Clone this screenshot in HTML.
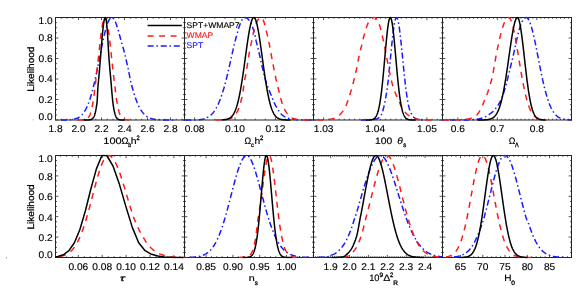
<!DOCTYPE html>
<html><head><meta charset="utf-8"><title>Likelihood</title>
<style>
html,body{margin:0;padding:0;background:#fff;}
body{width:586px;height:293px;overflow:hidden;position:relative;font-family:"Liberation Sans",sans-serif;}
</style></head><body>
<svg xmlns="http://www.w3.org/2000/svg" width="586" height="293" viewBox="0 0 586 293" style="position:absolute;left:0;top:0;will-change:transform">
<rect x="0" y="0" width="586" height="293" fill="#fff"/>
<clipPath id="clip00"><rect x="55.50" y="16.50" width="129.00" height="104.50"/></clipPath>
<rect x="55.50" y="17.50" width="129.00" height="102.50" fill="none" stroke="#242424" stroke-width="1"/>
<text transform="translate(55.50 132.00) scale(1.040 1)" font-size="9.80" text-anchor="middle" font-family="Liberation Sans, sans-serif" text-rendering="geometricPrecision" fill="#000" stroke="#000" stroke-width="0.14">1.8</text>
<text transform="translate(78.50 132.00) scale(1.040 1)" font-size="9.80" text-anchor="middle" font-family="Liberation Sans, sans-serif" text-rendering="geometricPrecision" fill="#000" stroke="#000" stroke-width="0.14">2.0</text>
<text transform="translate(101.50 132.00) scale(1.040 1)" font-size="9.80" text-anchor="middle" font-family="Liberation Sans, sans-serif" text-rendering="geometricPrecision" fill="#000" stroke="#000" stroke-width="0.14">2.2</text>
<text transform="translate(124.50 132.00) scale(1.040 1)" font-size="9.80" text-anchor="middle" font-family="Liberation Sans, sans-serif" text-rendering="geometricPrecision" fill="#000" stroke="#000" stroke-width="0.14">2.4</text>
<text transform="translate(147.50 132.00) scale(1.040 1)" font-size="9.80" text-anchor="middle" font-family="Liberation Sans, sans-serif" text-rendering="geometricPrecision" fill="#000" stroke="#000" stroke-width="0.14">2.6</text>
<text transform="translate(170.50 132.00) scale(1.040 1)" font-size="9.80" text-anchor="middle" font-family="Liberation Sans, sans-serif" text-rendering="geometricPrecision" fill="#000" stroke="#000" stroke-width="0.14">2.8</text>
<path d="M55.50 120.00 h2.90 M184.50 120.00 h-2.90 M55.50 114.88 h1.50 M184.50 114.88 h-1.50 M55.50 109.75 h1.50 M184.50 109.75 h-1.50 M55.50 104.62 h1.50 M184.50 104.62 h-1.50 M55.50 99.50 h2.90 M184.50 99.50 h-2.90 M55.50 94.38 h1.50 M184.50 94.38 h-1.50 M55.50 89.25 h1.50 M184.50 89.25 h-1.50 M55.50 84.12 h1.50 M184.50 84.12 h-1.50 M55.50 79.00 h2.90 M184.50 79.00 h-2.90 M55.50 73.88 h1.50 M184.50 73.88 h-1.50 M55.50 68.75 h1.50 M184.50 68.75 h-1.50 M55.50 63.62 h1.50 M184.50 63.62 h-1.50 M55.50 58.50 h2.90 M184.50 58.50 h-2.90 M55.50 53.38 h1.50 M184.50 53.38 h-1.50 M55.50 48.25 h1.50 M184.50 48.25 h-1.50 M55.50 43.12 h1.50 M184.50 43.12 h-1.50 M55.50 38.00 h2.90 M184.50 38.00 h-2.90 M55.50 32.87 h1.50 M184.50 32.87 h-1.50 M55.50 27.75 h1.50 M184.50 27.75 h-1.50 M55.50 22.62 h1.50 M184.50 22.62 h-1.50 M55.50 17.50 h2.90 M184.50 17.50 h-2.90 M55.50 120.00 v-2.60 M55.50 17.50 v2.60 M61.25 120.00 v-1.30 M61.25 17.50 v1.30 M67.00 120.00 v-1.30 M67.00 17.50 v1.30 M72.75 120.00 v-1.30 M72.75 17.50 v1.30 M78.50 120.00 v-2.60 M78.50 17.50 v2.60 M84.25 120.00 v-1.30 M84.25 17.50 v1.30 M90.00 120.00 v-1.30 M90.00 17.50 v1.30 M95.75 120.00 v-1.30 M95.75 17.50 v1.30 M101.50 120.00 v-2.60 M101.50 17.50 v2.60 M107.25 120.00 v-1.30 M107.25 17.50 v1.30 M113.00 120.00 v-1.30 M113.00 17.50 v1.30 M118.75 120.00 v-1.30 M118.75 17.50 v1.30 M124.50 120.00 v-2.60 M124.50 17.50 v2.60 M130.25 120.00 v-1.30 M130.25 17.50 v1.30 M136.00 120.00 v-1.30 M136.00 17.50 v1.30 M141.75 120.00 v-1.30 M141.75 17.50 v1.30 M147.50 120.00 v-2.60 M147.50 17.50 v2.60 M153.25 120.00 v-1.30 M153.25 17.50 v1.30 M159.00 120.00 v-1.30 M159.00 17.50 v1.30 M164.75 120.00 v-1.30 M164.75 17.50 v1.30 M170.50 120.00 v-2.60 M170.50 17.50 v2.60 M176.25 120.00 v-1.30 M176.25 17.50 v1.30 M182.00 120.00 v-1.30 M182.00 17.50 v1.30" stroke="#2a2a2a" stroke-width="0.8" fill="none"/>
<text transform="translate(52.70 119.90) scale(1.040 1)" font-size="9.80" text-anchor="end" font-family="Liberation Sans, sans-serif" text-rendering="geometricPrecision" fill="#000" stroke="#000" stroke-width="0.14">0.0</text>
<text transform="translate(52.70 102.80) scale(1.040 1)" font-size="9.80" text-anchor="end" font-family="Liberation Sans, sans-serif" text-rendering="geometricPrecision" fill="#000" stroke="#000" stroke-width="0.14">0.2</text>
<text transform="translate(52.70 82.30) scale(1.040 1)" font-size="9.80" text-anchor="end" font-family="Liberation Sans, sans-serif" text-rendering="geometricPrecision" fill="#000" stroke="#000" stroke-width="0.14">0.4</text>
<text transform="translate(52.70 61.80) scale(1.040 1)" font-size="9.80" text-anchor="end" font-family="Liberation Sans, sans-serif" text-rendering="geometricPrecision" fill="#000" stroke="#000" stroke-width="0.14">0.6</text>
<text transform="translate(52.70 41.30) scale(1.040 1)" font-size="9.80" text-anchor="end" font-family="Liberation Sans, sans-serif" text-rendering="geometricPrecision" fill="#000" stroke="#000" stroke-width="0.14">0.8</text>
<text transform="translate(52.70 23.80) scale(1.040 1)" font-size="9.80" text-anchor="end" font-family="Liberation Sans, sans-serif" text-rendering="geometricPrecision" fill="#000" stroke="#000" stroke-width="0.14">1.0</text>
<text transform="translate(34.30 69.15) rotate(-90) scale(1.070 1)" font-size="9.40" text-anchor="middle" font-family="Liberation Sans, sans-serif" text-rendering="geometricPrecision" fill="#000" stroke="#000" stroke-width="0.28">Likelihood</text>
<clipPath id="clip01"><rect x="184.50" y="16.50" width="129.00" height="104.50"/></clipPath>
<rect x="184.50" y="17.50" width="129.00" height="102.50" fill="none" stroke="#242424" stroke-width="1"/>
<text transform="translate(194.60 132.00) scale(1.040 1)" font-size="9.80" text-anchor="middle" font-family="Liberation Sans, sans-serif" text-rendering="geometricPrecision" fill="#000" stroke="#000" stroke-width="0.14">0.08</text>
<text transform="translate(235.00 132.00) scale(1.040 1)" font-size="9.80" text-anchor="middle" font-family="Liberation Sans, sans-serif" text-rendering="geometricPrecision" fill="#000" stroke="#000" stroke-width="0.14">0.10</text>
<text transform="translate(275.40 132.00) scale(1.040 1)" font-size="9.80" text-anchor="middle" font-family="Liberation Sans, sans-serif" text-rendering="geometricPrecision" fill="#000" stroke="#000" stroke-width="0.14">0.12</text>
<path d="M184.50 120.00 h2.90 M313.50 120.00 h-2.90 M184.50 114.88 h1.50 M313.50 114.88 h-1.50 M184.50 109.75 h1.50 M313.50 109.75 h-1.50 M184.50 104.62 h1.50 M313.50 104.62 h-1.50 M184.50 99.50 h2.90 M313.50 99.50 h-2.90 M184.50 94.38 h1.50 M313.50 94.38 h-1.50 M184.50 89.25 h1.50 M313.50 89.25 h-1.50 M184.50 84.12 h1.50 M313.50 84.12 h-1.50 M184.50 79.00 h2.90 M313.50 79.00 h-2.90 M184.50 73.88 h1.50 M313.50 73.88 h-1.50 M184.50 68.75 h1.50 M313.50 68.75 h-1.50 M184.50 63.62 h1.50 M313.50 63.62 h-1.50 M184.50 58.50 h2.90 M313.50 58.50 h-2.90 M184.50 53.38 h1.50 M313.50 53.38 h-1.50 M184.50 48.25 h1.50 M313.50 48.25 h-1.50 M184.50 43.12 h1.50 M313.50 43.12 h-1.50 M184.50 38.00 h2.90 M313.50 38.00 h-2.90 M184.50 32.87 h1.50 M313.50 32.87 h-1.50 M184.50 27.75 h1.50 M313.50 27.75 h-1.50 M184.50 22.62 h1.50 M313.50 22.62 h-1.50 M184.50 17.50 h2.90 M313.50 17.50 h-2.90 M184.50 120.00 v-1.30 M184.50 17.50 v1.30 M194.60 120.00 v-2.60 M194.60 17.50 v2.60 M204.70 120.00 v-1.30 M204.70 17.50 v1.30 M214.80 120.00 v-1.30 M214.80 17.50 v1.30 M224.90 120.00 v-1.30 M224.90 17.50 v1.30 M235.00 120.00 v-2.60 M235.00 17.50 v2.60 M245.10 120.00 v-1.30 M245.10 17.50 v1.30 M255.20 120.00 v-1.30 M255.20 17.50 v1.30 M265.30 120.00 v-1.30 M265.30 17.50 v1.30 M275.40 120.00 v-2.60 M275.40 17.50 v2.60 M285.50 120.00 v-1.30 M285.50 17.50 v1.30 M295.60 120.00 v-1.30 M295.60 17.50 v1.30 M305.70 120.00 v-1.30 M305.70 17.50 v1.30" stroke="#2a2a2a" stroke-width="0.8" fill="none"/>
<clipPath id="clip02"><rect x="313.50" y="16.50" width="129.00" height="104.50"/></clipPath>
<rect x="313.50" y="17.50" width="129.00" height="102.50" fill="none" stroke="#242424" stroke-width="1"/>
<text transform="translate(323.60 132.00) scale(1.040 1)" font-size="9.80" text-anchor="middle" font-family="Liberation Sans, sans-serif" text-rendering="geometricPrecision" fill="#000" stroke="#000" stroke-width="0.14">1.03</text>
<text transform="translate(375.25 132.00) scale(1.040 1)" font-size="9.80" text-anchor="middle" font-family="Liberation Sans, sans-serif" text-rendering="geometricPrecision" fill="#000" stroke="#000" stroke-width="0.14">1.04</text>
<text transform="translate(426.90 132.00) scale(1.040 1)" font-size="9.80" text-anchor="middle" font-family="Liberation Sans, sans-serif" text-rendering="geometricPrecision" fill="#000" stroke="#000" stroke-width="0.14">1.05</text>
<path d="M313.50 120.00 h2.90 M442.50 120.00 h-2.90 M313.50 114.88 h1.50 M442.50 114.88 h-1.50 M313.50 109.75 h1.50 M442.50 109.75 h-1.50 M313.50 104.62 h1.50 M442.50 104.62 h-1.50 M313.50 99.50 h2.90 M442.50 99.50 h-2.90 M313.50 94.38 h1.50 M442.50 94.38 h-1.50 M313.50 89.25 h1.50 M442.50 89.25 h-1.50 M313.50 84.12 h1.50 M442.50 84.12 h-1.50 M313.50 79.00 h2.90 M442.50 79.00 h-2.90 M313.50 73.88 h1.50 M442.50 73.88 h-1.50 M313.50 68.75 h1.50 M442.50 68.75 h-1.50 M313.50 63.62 h1.50 M442.50 63.62 h-1.50 M313.50 58.50 h2.90 M442.50 58.50 h-2.90 M313.50 53.38 h1.50 M442.50 53.38 h-1.50 M313.50 48.25 h1.50 M442.50 48.25 h-1.50 M313.50 43.12 h1.50 M442.50 43.12 h-1.50 M313.50 38.00 h2.90 M442.50 38.00 h-2.90 M313.50 32.87 h1.50 M442.50 32.87 h-1.50 M313.50 27.75 h1.50 M442.50 27.75 h-1.50 M313.50 22.62 h1.50 M442.50 22.62 h-1.50 M313.50 17.50 h2.90 M442.50 17.50 h-2.90 M318.43 120.00 v-1.30 M318.43 17.50 v1.30 M323.60 120.00 v-2.60 M323.60 17.50 v2.60 M328.76 120.00 v-1.30 M328.76 17.50 v1.30 M333.93 120.00 v-1.30 M333.93 17.50 v1.30 M339.09 120.00 v-1.30 M339.09 17.50 v1.30 M344.26 120.00 v-1.30 M344.26 17.50 v1.30 M349.42 120.00 v-1.30 M349.42 17.50 v1.30 M354.59 120.00 v-1.30 M354.59 17.50 v1.30 M359.75 120.00 v-1.30 M359.75 17.50 v1.30 M364.92 120.00 v-1.30 M364.92 17.50 v1.30 M370.08 120.00 v-1.30 M370.08 17.50 v1.30 M375.25 120.00 v-2.60 M375.25 17.50 v2.60 M380.41 120.00 v-1.30 M380.41 17.50 v1.30 M385.58 120.00 v-1.30 M385.58 17.50 v1.30 M390.75 120.00 v-1.30 M390.75 17.50 v1.30 M395.91 120.00 v-1.30 M395.91 17.50 v1.30 M401.08 120.00 v-1.30 M401.08 17.50 v1.30 M406.24 120.00 v-1.30 M406.24 17.50 v1.30 M411.41 120.00 v-1.30 M411.41 17.50 v1.30 M416.57 120.00 v-1.30 M416.57 17.50 v1.30 M421.74 120.00 v-1.30 M421.74 17.50 v1.30 M426.90 120.00 v-2.60 M426.90 17.50 v2.60 M432.07 120.00 v-1.30 M432.07 17.50 v1.30 M437.23 120.00 v-1.30 M437.23 17.50 v1.30 M442.40 120.00 v-1.30 M442.40 17.50 v1.30" stroke="#2a2a2a" stroke-width="0.8" fill="none"/>
<clipPath id="clip03"><rect x="442.50" y="16.50" width="129.00" height="104.50"/></clipPath>
<rect x="442.50" y="17.50" width="129.00" height="102.50" fill="none" stroke="#242424" stroke-width="1"/>
<text transform="translate(457.80 132.00) scale(1.040 1)" font-size="9.80" text-anchor="middle" font-family="Liberation Sans, sans-serif" text-rendering="geometricPrecision" fill="#000" stroke="#000" stroke-width="0.14">0.6</text>
<text transform="translate(497.30 132.00) scale(1.040 1)" font-size="9.80" text-anchor="middle" font-family="Liberation Sans, sans-serif" text-rendering="geometricPrecision" fill="#000" stroke="#000" stroke-width="0.14">0.7</text>
<text transform="translate(536.80 132.00) scale(1.040 1)" font-size="9.80" text-anchor="middle" font-family="Liberation Sans, sans-serif" text-rendering="geometricPrecision" fill="#000" stroke="#000" stroke-width="0.14">0.8</text>
<path d="M442.50 120.00 h2.90 M571.50 120.00 h-2.90 M442.50 114.88 h1.50 M571.50 114.88 h-1.50 M442.50 109.75 h1.50 M571.50 109.75 h-1.50 M442.50 104.62 h1.50 M571.50 104.62 h-1.50 M442.50 99.50 h2.90 M571.50 99.50 h-2.90 M442.50 94.38 h1.50 M571.50 94.38 h-1.50 M442.50 89.25 h1.50 M571.50 89.25 h-1.50 M442.50 84.12 h1.50 M571.50 84.12 h-1.50 M442.50 79.00 h2.90 M571.50 79.00 h-2.90 M442.50 73.88 h1.50 M571.50 73.88 h-1.50 M442.50 68.75 h1.50 M571.50 68.75 h-1.50 M442.50 63.62 h1.50 M571.50 63.62 h-1.50 M442.50 58.50 h2.90 M571.50 58.50 h-2.90 M442.50 53.38 h1.50 M571.50 53.38 h-1.50 M442.50 48.25 h1.50 M571.50 48.25 h-1.50 M442.50 43.12 h1.50 M571.50 43.12 h-1.50 M442.50 38.00 h2.90 M571.50 38.00 h-2.90 M442.50 32.87 h1.50 M571.50 32.87 h-1.50 M442.50 27.75 h1.50 M571.50 27.75 h-1.50 M442.50 22.62 h1.50 M571.50 22.62 h-1.50 M442.50 17.50 h2.90 M571.50 17.50 h-2.90 M445.95 120.00 v-1.30 M445.95 17.50 v1.30 M449.90 120.00 v-1.30 M449.90 17.50 v1.30 M453.85 120.00 v-1.30 M453.85 17.50 v1.30 M457.80 120.00 v-2.60 M457.80 17.50 v2.60 M461.75 120.00 v-1.30 M461.75 17.50 v1.30 M465.70 120.00 v-1.30 M465.70 17.50 v1.30 M469.65 120.00 v-1.30 M469.65 17.50 v1.30 M473.60 120.00 v-1.30 M473.60 17.50 v1.30 M477.55 120.00 v-1.30 M477.55 17.50 v1.30 M481.50 120.00 v-1.30 M481.50 17.50 v1.30 M485.45 120.00 v-1.30 M485.45 17.50 v1.30 M489.40 120.00 v-1.30 M489.40 17.50 v1.30 M493.35 120.00 v-1.30 M493.35 17.50 v1.30 M497.30 120.00 v-2.60 M497.30 17.50 v2.60 M501.25 120.00 v-1.30 M501.25 17.50 v1.30 M505.20 120.00 v-1.30 M505.20 17.50 v1.30 M509.15 120.00 v-1.30 M509.15 17.50 v1.30 M513.10 120.00 v-1.30 M513.10 17.50 v1.30 M517.05 120.00 v-1.30 M517.05 17.50 v1.30 M521.00 120.00 v-1.30 M521.00 17.50 v1.30 M524.95 120.00 v-1.30 M524.95 17.50 v1.30 M528.90 120.00 v-1.30 M528.90 17.50 v1.30 M532.85 120.00 v-1.30 M532.85 17.50 v1.30 M536.80 120.00 v-2.60 M536.80 17.50 v2.60 M540.75 120.00 v-1.30 M540.75 17.50 v1.30 M544.70 120.00 v-1.30 M544.70 17.50 v1.30 M548.65 120.00 v-1.30 M548.65 17.50 v1.30 M552.60 120.00 v-1.30 M552.60 17.50 v1.30 M556.55 120.00 v-1.30 M556.55 17.50 v1.30 M560.50 120.00 v-1.30 M560.50 17.50 v1.30 M564.45 120.00 v-1.30 M564.45 17.50 v1.30 M568.40 120.00 v-1.30 M568.40 17.50 v1.30" stroke="#2a2a2a" stroke-width="0.8" fill="none"/>
<clipPath id="clip10"><rect x="55.50" y="154.50" width="129.00" height="104.00"/></clipPath>
<rect x="55.50" y="155.50" width="129.00" height="102.00" fill="none" stroke="#242424" stroke-width="1"/>
<text transform="translate(78.30 269.50) scale(1.040 1)" font-size="9.80" text-anchor="middle" font-family="Liberation Sans, sans-serif" text-rendering="geometricPrecision" fill="#000" stroke="#000" stroke-width="0.14">0.06</text>
<text transform="translate(102.20 269.50) scale(1.040 1)" font-size="9.80" text-anchor="middle" font-family="Liberation Sans, sans-serif" text-rendering="geometricPrecision" fill="#000" stroke="#000" stroke-width="0.14">0.08</text>
<text transform="translate(126.10 269.50) scale(1.040 1)" font-size="9.80" text-anchor="middle" font-family="Liberation Sans, sans-serif" text-rendering="geometricPrecision" fill="#000" stroke="#000" stroke-width="0.14">0.10</text>
<text transform="translate(150.00 269.50) scale(1.040 1)" font-size="9.80" text-anchor="middle" font-family="Liberation Sans, sans-serif" text-rendering="geometricPrecision" fill="#000" stroke="#000" stroke-width="0.14">0.12</text>
<text transform="translate(173.90 269.50) scale(1.040 1)" font-size="9.80" text-anchor="middle" font-family="Liberation Sans, sans-serif" text-rendering="geometricPrecision" fill="#000" stroke="#000" stroke-width="0.14">0.14</text>
<path d="M55.50 257.50 h2.90 M184.50 257.50 h-2.90 M55.50 252.40 h1.50 M184.50 252.40 h-1.50 M55.50 247.30 h1.50 M184.50 247.30 h-1.50 M55.50 242.20 h1.50 M184.50 242.20 h-1.50 M55.50 237.10 h2.90 M184.50 237.10 h-2.90 M55.50 232.00 h1.50 M184.50 232.00 h-1.50 M55.50 226.90 h1.50 M184.50 226.90 h-1.50 M55.50 221.80 h1.50 M184.50 221.80 h-1.50 M55.50 216.70 h2.90 M184.50 216.70 h-2.90 M55.50 211.60 h1.50 M184.50 211.60 h-1.50 M55.50 206.50 h1.50 M184.50 206.50 h-1.50 M55.50 201.40 h1.50 M184.50 201.40 h-1.50 M55.50 196.30 h2.90 M184.50 196.30 h-2.90 M55.50 191.20 h1.50 M184.50 191.20 h-1.50 M55.50 186.10 h1.50 M184.50 186.10 h-1.50 M55.50 181.00 h1.50 M184.50 181.00 h-1.50 M55.50 175.90 h2.90 M184.50 175.90 h-2.90 M55.50 170.80 h1.50 M184.50 170.80 h-1.50 M55.50 165.70 h1.50 M184.50 165.70 h-1.50 M55.50 160.60 h1.50 M184.50 160.60 h-1.50 M55.50 155.50 h2.90 M184.50 155.50 h-2.90 M60.38 257.50 v-1.30 M60.38 155.50 v1.30 M66.35 257.50 v-1.30 M66.35 155.50 v1.30 M72.33 257.50 v-1.30 M72.33 155.50 v1.30 M78.30 257.50 v-2.60 M78.30 155.50 v2.60 M84.28 257.50 v-1.30 M84.28 155.50 v1.30 M90.25 257.50 v-1.30 M90.25 155.50 v1.30 M96.23 257.50 v-1.30 M96.23 155.50 v1.30 M102.20 257.50 v-2.60 M102.20 155.50 v2.60 M108.18 257.50 v-1.30 M108.18 155.50 v1.30 M114.15 257.50 v-1.30 M114.15 155.50 v1.30 M120.13 257.50 v-1.30 M120.13 155.50 v1.30 M126.10 257.50 v-2.60 M126.10 155.50 v2.60 M132.08 257.50 v-1.30 M132.08 155.50 v1.30 M138.05 257.50 v-1.30 M138.05 155.50 v1.30 M144.03 257.50 v-1.30 M144.03 155.50 v1.30 M150.00 257.50 v-2.60 M150.00 155.50 v2.60 M155.98 257.50 v-1.30 M155.98 155.50 v1.30 M161.95 257.50 v-1.30 M161.95 155.50 v1.30 M167.93 257.50 v-1.30 M167.93 155.50 v1.30 M173.90 257.50 v-2.60 M173.90 155.50 v2.60 M179.88 257.50 v-1.30 M179.88 155.50 v1.30" stroke="#2a2a2a" stroke-width="0.8" fill="none"/>
<text transform="translate(52.70 258.00) scale(1.040 1)" font-size="9.80" text-anchor="end" font-family="Liberation Sans, sans-serif" text-rendering="geometricPrecision" fill="#000" stroke="#000" stroke-width="0.14">0.0</text>
<text transform="translate(52.70 241.00) scale(1.040 1)" font-size="9.80" text-anchor="end" font-family="Liberation Sans, sans-serif" text-rendering="geometricPrecision" fill="#000" stroke="#000" stroke-width="0.14">0.2</text>
<text transform="translate(52.70 220.60) scale(1.040 1)" font-size="9.80" text-anchor="end" font-family="Liberation Sans, sans-serif" text-rendering="geometricPrecision" fill="#000" stroke="#000" stroke-width="0.14">0.4</text>
<text transform="translate(52.70 200.20) scale(1.040 1)" font-size="9.80" text-anchor="end" font-family="Liberation Sans, sans-serif" text-rendering="geometricPrecision" fill="#000" stroke="#000" stroke-width="0.14">0.6</text>
<text transform="translate(52.70 179.80) scale(1.040 1)" font-size="9.80" text-anchor="end" font-family="Liberation Sans, sans-serif" text-rendering="geometricPrecision" fill="#000" stroke="#000" stroke-width="0.14">0.8</text>
<text transform="translate(52.70 162.40) scale(1.040 1)" font-size="9.80" text-anchor="end" font-family="Liberation Sans, sans-serif" text-rendering="geometricPrecision" fill="#000" stroke="#000" stroke-width="0.14">1.0</text>
<text transform="translate(34.30 206.90) rotate(-90) scale(1.070 1)" font-size="9.40" text-anchor="middle" font-family="Liberation Sans, sans-serif" text-rendering="geometricPrecision" fill="#000" stroke="#000" stroke-width="0.28">Likelihood</text>
<clipPath id="clip11"><rect x="184.50" y="154.50" width="129.00" height="104.00"/></clipPath>
<rect x="184.50" y="155.50" width="129.00" height="102.00" fill="none" stroke="#242424" stroke-width="1"/>
<text transform="translate(206.10 269.50) scale(1.040 1)" font-size="9.80" text-anchor="middle" font-family="Liberation Sans, sans-serif" text-rendering="geometricPrecision" fill="#000" stroke="#000" stroke-width="0.14">0.85</text>
<text transform="translate(232.90 269.50) scale(1.040 1)" font-size="9.80" text-anchor="middle" font-family="Liberation Sans, sans-serif" text-rendering="geometricPrecision" fill="#000" stroke="#000" stroke-width="0.14">0.90</text>
<text transform="translate(259.70 269.50) scale(1.040 1)" font-size="9.80" text-anchor="middle" font-family="Liberation Sans, sans-serif" text-rendering="geometricPrecision" fill="#000" stroke="#000" stroke-width="0.14">0.95</text>
<text transform="translate(286.50 269.50) scale(1.040 1)" font-size="9.80" text-anchor="middle" font-family="Liberation Sans, sans-serif" text-rendering="geometricPrecision" fill="#000" stroke="#000" stroke-width="0.14">1.00</text>
<path d="M184.50 257.50 h2.90 M313.50 257.50 h-2.90 M184.50 252.40 h1.50 M313.50 252.40 h-1.50 M184.50 247.30 h1.50 M313.50 247.30 h-1.50 M184.50 242.20 h1.50 M313.50 242.20 h-1.50 M184.50 237.10 h2.90 M313.50 237.10 h-2.90 M184.50 232.00 h1.50 M313.50 232.00 h-1.50 M184.50 226.90 h1.50 M313.50 226.90 h-1.50 M184.50 221.80 h1.50 M313.50 221.80 h-1.50 M184.50 216.70 h2.90 M313.50 216.70 h-2.90 M184.50 211.60 h1.50 M313.50 211.60 h-1.50 M184.50 206.50 h1.50 M313.50 206.50 h-1.50 M184.50 201.40 h1.50 M313.50 201.40 h-1.50 M184.50 196.30 h2.90 M313.50 196.30 h-2.90 M184.50 191.20 h1.50 M313.50 191.20 h-1.50 M184.50 186.10 h1.50 M313.50 186.10 h-1.50 M184.50 181.00 h1.50 M313.50 181.00 h-1.50 M184.50 175.90 h2.90 M313.50 175.90 h-2.90 M184.50 170.80 h1.50 M313.50 170.80 h-1.50 M184.50 165.70 h1.50 M313.50 165.70 h-1.50 M184.50 160.60 h1.50 M313.50 160.60 h-1.50 M184.50 155.50 h2.90 M313.50 155.50 h-2.90 M184.66 257.50 v-1.30 M184.66 155.50 v1.30 M190.02 257.50 v-1.30 M190.02 155.50 v1.30 M195.38 257.50 v-1.30 M195.38 155.50 v1.30 M200.74 257.50 v-1.30 M200.74 155.50 v1.30 M206.10 257.50 v-2.60 M206.10 155.50 v2.60 M211.46 257.50 v-1.30 M211.46 155.50 v1.30 M216.82 257.50 v-1.30 M216.82 155.50 v1.30 M222.18 257.50 v-1.30 M222.18 155.50 v1.30 M227.54 257.50 v-1.30 M227.54 155.50 v1.30 M232.90 257.50 v-2.60 M232.90 155.50 v2.60 M238.26 257.50 v-1.30 M238.26 155.50 v1.30 M243.62 257.50 v-1.30 M243.62 155.50 v1.30 M248.98 257.50 v-1.30 M248.98 155.50 v1.30 M254.34 257.50 v-1.30 M254.34 155.50 v1.30 M259.70 257.50 v-2.60 M259.70 155.50 v2.60 M265.06 257.50 v-1.30 M265.06 155.50 v1.30 M270.42 257.50 v-1.30 M270.42 155.50 v1.30 M275.78 257.50 v-1.30 M275.78 155.50 v1.30 M281.14 257.50 v-1.30 M281.14 155.50 v1.30 M286.50 257.50 v-2.60 M286.50 155.50 v2.60 M291.86 257.50 v-1.30 M291.86 155.50 v1.30 M297.22 257.50 v-1.30 M297.22 155.50 v1.30 M302.58 257.50 v-1.30 M302.58 155.50 v1.30 M307.94 257.50 v-1.30 M307.94 155.50 v1.30 M313.30 257.50 v-2.60 M313.30 155.50 v2.60" stroke="#2a2a2a" stroke-width="0.8" fill="none"/>
<clipPath id="clip12"><rect x="313.50" y="154.50" width="129.00" height="104.00"/></clipPath>
<rect x="313.50" y="155.50" width="129.00" height="102.00" fill="none" stroke="#242424" stroke-width="1"/>
<text transform="translate(330.60 269.50) scale(1.040 1)" font-size="9.80" text-anchor="middle" font-family="Liberation Sans, sans-serif" text-rendering="geometricPrecision" fill="#000" stroke="#000" stroke-width="0.14">1.9</text>
<text transform="translate(349.50 269.50) scale(1.040 1)" font-size="9.80" text-anchor="middle" font-family="Liberation Sans, sans-serif" text-rendering="geometricPrecision" fill="#000" stroke="#000" stroke-width="0.14">2.0</text>
<text transform="translate(368.40 269.50) scale(1.040 1)" font-size="9.80" text-anchor="middle" font-family="Liberation Sans, sans-serif" text-rendering="geometricPrecision" fill="#000" stroke="#000" stroke-width="0.14">2.1</text>
<text transform="translate(387.30 269.50) scale(1.040 1)" font-size="9.80" text-anchor="middle" font-family="Liberation Sans, sans-serif" text-rendering="geometricPrecision" fill="#000" stroke="#000" stroke-width="0.14">2.2</text>
<text transform="translate(406.20 269.50) scale(1.040 1)" font-size="9.80" text-anchor="middle" font-family="Liberation Sans, sans-serif" text-rendering="geometricPrecision" fill="#000" stroke="#000" stroke-width="0.14">2.3</text>
<text transform="translate(425.10 269.50) scale(1.040 1)" font-size="9.80" text-anchor="middle" font-family="Liberation Sans, sans-serif" text-rendering="geometricPrecision" fill="#000" stroke="#000" stroke-width="0.14">2.4</text>
<path d="M313.50 257.50 h2.90 M442.50 257.50 h-2.90 M313.50 252.40 h1.50 M442.50 252.40 h-1.50 M313.50 247.30 h1.50 M442.50 247.30 h-1.50 M313.50 242.20 h1.50 M442.50 242.20 h-1.50 M313.50 237.10 h2.90 M442.50 237.10 h-2.90 M313.50 232.00 h1.50 M442.50 232.00 h-1.50 M313.50 226.90 h1.50 M442.50 226.90 h-1.50 M313.50 221.80 h1.50 M442.50 221.80 h-1.50 M313.50 216.70 h2.90 M442.50 216.70 h-2.90 M313.50 211.60 h1.50 M442.50 211.60 h-1.50 M313.50 206.50 h1.50 M442.50 206.50 h-1.50 M313.50 201.40 h1.50 M442.50 201.40 h-1.50 M313.50 196.30 h2.90 M442.50 196.30 h-2.90 M313.50 191.20 h1.50 M442.50 191.20 h-1.50 M313.50 186.10 h1.50 M442.50 186.10 h-1.50 M313.50 181.00 h1.50 M442.50 181.00 h-1.50 M313.50 175.90 h2.90 M442.50 175.90 h-2.90 M313.50 170.80 h1.50 M442.50 170.80 h-1.50 M313.50 165.70 h1.50 M442.50 165.70 h-1.50 M313.50 160.60 h1.50 M442.50 160.60 h-1.50 M313.50 155.50 h2.90 M442.50 155.50 h-2.90 M313.59 257.50 v-1.30 M313.59 155.50 v1.30 M315.48 257.50 v-1.30 M315.48 155.50 v1.30 M317.37 257.50 v-1.30 M317.37 155.50 v1.30 M319.26 257.50 v-1.30 M319.26 155.50 v1.30 M321.15 257.50 v-1.30 M321.15 155.50 v1.30 M323.04 257.50 v-1.30 M323.04 155.50 v1.30 M324.93 257.50 v-1.30 M324.93 155.50 v1.30 M326.82 257.50 v-1.30 M326.82 155.50 v1.30 M328.71 257.50 v-1.30 M328.71 155.50 v1.30 M330.60 257.50 v-2.60 M330.60 155.50 v2.60 M332.49 257.50 v-1.30 M332.49 155.50 v1.30 M334.38 257.50 v-1.30 M334.38 155.50 v1.30 M336.27 257.50 v-1.30 M336.27 155.50 v1.30 M338.16 257.50 v-1.30 M338.16 155.50 v1.30 M340.05 257.50 v-1.30 M340.05 155.50 v1.30 M341.94 257.50 v-1.30 M341.94 155.50 v1.30 M343.83 257.50 v-1.30 M343.83 155.50 v1.30 M345.72 257.50 v-1.30 M345.72 155.50 v1.30 M347.61 257.50 v-1.30 M347.61 155.50 v1.30 M349.50 257.50 v-2.60 M349.50 155.50 v2.60 M351.39 257.50 v-1.30 M351.39 155.50 v1.30 M353.28 257.50 v-1.30 M353.28 155.50 v1.30 M355.17 257.50 v-1.30 M355.17 155.50 v1.30 M357.06 257.50 v-1.30 M357.06 155.50 v1.30 M358.95 257.50 v-1.30 M358.95 155.50 v1.30 M360.84 257.50 v-1.30 M360.84 155.50 v1.30 M362.73 257.50 v-1.30 M362.73 155.50 v1.30 M364.62 257.50 v-1.30 M364.62 155.50 v1.30 M366.51 257.50 v-1.30 M366.51 155.50 v1.30 M368.40 257.50 v-2.60 M368.40 155.50 v2.60 M370.29 257.50 v-1.30 M370.29 155.50 v1.30 M372.18 257.50 v-1.30 M372.18 155.50 v1.30 M374.07 257.50 v-1.30 M374.07 155.50 v1.30 M375.96 257.50 v-1.30 M375.96 155.50 v1.30 M377.85 257.50 v-1.30 M377.85 155.50 v1.30 M379.74 257.50 v-1.30 M379.74 155.50 v1.30 M381.63 257.50 v-1.30 M381.63 155.50 v1.30 M383.52 257.50 v-1.30 M383.52 155.50 v1.30 M385.41 257.50 v-1.30 M385.41 155.50 v1.30 M387.30 257.50 v-2.60 M387.30 155.50 v2.60 M389.19 257.50 v-1.30 M389.19 155.50 v1.30 M391.08 257.50 v-1.30 M391.08 155.50 v1.30 M392.97 257.50 v-1.30 M392.97 155.50 v1.30 M394.86 257.50 v-1.30 M394.86 155.50 v1.30 M396.75 257.50 v-1.30 M396.75 155.50 v1.30 M398.64 257.50 v-1.30 M398.64 155.50 v1.30 M400.53 257.50 v-1.30 M400.53 155.50 v1.30 M402.42 257.50 v-1.30 M402.42 155.50 v1.30 M404.31 257.50 v-1.30 M404.31 155.50 v1.30 M406.20 257.50 v-2.60 M406.20 155.50 v2.60 M408.09 257.50 v-1.30 M408.09 155.50 v1.30 M409.98 257.50 v-1.30 M409.98 155.50 v1.30 M411.87 257.50 v-1.30 M411.87 155.50 v1.30 M413.76 257.50 v-1.30 M413.76 155.50 v1.30 M415.65 257.50 v-1.30 M415.65 155.50 v1.30 M417.54 257.50 v-1.30 M417.54 155.50 v1.30 M419.43 257.50 v-1.30 M419.43 155.50 v1.30 M421.32 257.50 v-1.30 M421.32 155.50 v1.30 M423.21 257.50 v-1.30 M423.21 155.50 v1.30 M425.10 257.50 v-2.60 M425.10 155.50 v2.60 M426.99 257.50 v-1.30 M426.99 155.50 v1.30 M428.88 257.50 v-1.30 M428.88 155.50 v1.30 M430.77 257.50 v-1.30 M430.77 155.50 v1.30 M432.66 257.50 v-1.30 M432.66 155.50 v1.30 M434.55 257.50 v-1.30 M434.55 155.50 v1.30 M436.44 257.50 v-1.30 M436.44 155.50 v1.30 M438.33 257.50 v-1.30 M438.33 155.50 v1.30 M440.22 257.50 v-1.30 M440.22 155.50 v1.30 M442.11 257.50 v-1.30 M442.11 155.50 v1.30" stroke="#2a2a2a" stroke-width="0.8" fill="none"/>
<clipPath id="clip13"><rect x="442.50" y="154.50" width="129.00" height="104.00"/></clipPath>
<rect x="442.50" y="155.50" width="129.00" height="102.00" fill="none" stroke="#242424" stroke-width="1"/>
<text transform="translate(460.50 269.50) scale(1.040 1)" font-size="9.80" text-anchor="middle" font-family="Liberation Sans, sans-serif" text-rendering="geometricPrecision" fill="#000" stroke="#000" stroke-width="0.14">65</text>
<text transform="translate(482.77 269.50) scale(1.040 1)" font-size="9.80" text-anchor="middle" font-family="Liberation Sans, sans-serif" text-rendering="geometricPrecision" fill="#000" stroke="#000" stroke-width="0.14">70</text>
<text transform="translate(505.03 269.50) scale(1.040 1)" font-size="9.80" text-anchor="middle" font-family="Liberation Sans, sans-serif" text-rendering="geometricPrecision" fill="#000" stroke="#000" stroke-width="0.14">75</text>
<text transform="translate(527.30 269.50) scale(1.040 1)" font-size="9.80" text-anchor="middle" font-family="Liberation Sans, sans-serif" text-rendering="geometricPrecision" fill="#000" stroke="#000" stroke-width="0.14">80</text>
<text transform="translate(549.57 269.50) scale(1.040 1)" font-size="9.80" text-anchor="middle" font-family="Liberation Sans, sans-serif" text-rendering="geometricPrecision" fill="#000" stroke="#000" stroke-width="0.14">85</text>
<path d="M442.50 257.50 h2.90 M571.50 257.50 h-2.90 M442.50 252.40 h1.50 M571.50 252.40 h-1.50 M442.50 247.30 h1.50 M571.50 247.30 h-1.50 M442.50 242.20 h1.50 M571.50 242.20 h-1.50 M442.50 237.10 h2.90 M571.50 237.10 h-2.90 M442.50 232.00 h1.50 M571.50 232.00 h-1.50 M442.50 226.90 h1.50 M571.50 226.90 h-1.50 M442.50 221.80 h1.50 M571.50 221.80 h-1.50 M442.50 216.70 h2.90 M571.50 216.70 h-2.90 M442.50 211.60 h1.50 M571.50 211.60 h-1.50 M442.50 206.50 h1.50 M571.50 206.50 h-1.50 M442.50 201.40 h1.50 M571.50 201.40 h-1.50 M442.50 196.30 h2.90 M571.50 196.30 h-2.90 M442.50 191.20 h1.50 M571.50 191.20 h-1.50 M442.50 186.10 h1.50 M571.50 186.10 h-1.50 M442.50 181.00 h1.50 M571.50 181.00 h-1.50 M442.50 175.90 h2.90 M571.50 175.90 h-2.90 M442.50 170.80 h1.50 M571.50 170.80 h-1.50 M442.50 165.70 h1.50 M571.50 165.70 h-1.50 M442.50 160.60 h1.50 M571.50 160.60 h-1.50 M442.50 155.50 h2.90 M571.50 155.50 h-2.90 M442.69 257.50 v-1.30 M442.69 155.50 v1.30 M447.14 257.50 v-1.30 M447.14 155.50 v1.30 M451.59 257.50 v-1.30 M451.59 155.50 v1.30 M456.05 257.50 v-1.30 M456.05 155.50 v1.30 M460.50 257.50 v-2.60 M460.50 155.50 v2.60 M464.95 257.50 v-1.30 M464.95 155.50 v1.30 M469.41 257.50 v-1.30 M469.41 155.50 v1.30 M473.86 257.50 v-1.30 M473.86 155.50 v1.30 M478.31 257.50 v-1.30 M478.31 155.50 v1.30 M482.77 257.50 v-2.60 M482.77 155.50 v2.60 M487.22 257.50 v-1.30 M487.22 155.50 v1.30 M491.67 257.50 v-1.30 M491.67 155.50 v1.30 M496.13 257.50 v-1.30 M496.13 155.50 v1.30 M500.58 257.50 v-1.30 M500.58 155.50 v1.30 M505.03 257.50 v-2.60 M505.03 155.50 v2.60 M509.49 257.50 v-1.30 M509.49 155.50 v1.30 M513.94 257.50 v-1.30 M513.94 155.50 v1.30 M518.39 257.50 v-1.30 M518.39 155.50 v1.30 M522.85 257.50 v-1.30 M522.85 155.50 v1.30 M527.30 257.50 v-2.60 M527.30 155.50 v2.60 M531.75 257.50 v-1.30 M531.75 155.50 v1.30 M536.21 257.50 v-1.30 M536.21 155.50 v1.30 M540.66 257.50 v-1.30 M540.66 155.50 v1.30 M545.11 257.50 v-1.30 M545.11 155.50 v1.30 M549.57 257.50 v-2.60 M549.57 155.50 v2.60 M554.02 257.50 v-1.30 M554.02 155.50 v1.30 M558.47 257.50 v-1.30 M558.47 155.50 v1.30 M562.93 257.50 v-1.30 M562.93 155.50 v1.30 M567.38 257.50 v-1.30 M567.38 155.50 v1.30" stroke="#2a2a2a" stroke-width="0.8" fill="none"/>
<g clip-path="url(#clip00)" fill="none" stroke-width="1.5" stroke-linejoin="round">
<path d="M61.00 119.98 L61.08 119.98 L61.45 119.98 L61.82 119.98 L62.19 119.97 L62.55 119.97 L62.92 119.96 L63.29 119.96 L63.66 119.95 L64.03 119.95 L64.39 119.94 L64.76 119.94 L65.13 119.93 L65.50 119.92 L65.86 119.91 L66.23 119.90 L66.60 119.89 L66.97 119.87 L67.33 119.86 L67.70 119.84 L68.07 119.82 L68.44 119.81 L68.80 119.78 L69.17 119.76 L69.54 119.73 L69.91 119.70 L70.27 119.67 L70.64 119.64 L71.01 119.60 L71.38 119.56 L71.74 119.51 L72.11 119.46 L72.48 119.41 L72.84 119.35 L73.21 119.28 L73.58 119.21 L73.95 119.13 L74.31 119.05 L74.68 118.96 L75.05 118.86 L75.42 118.75 L75.78 118.64 L76.15 118.51 L76.52 118.38 L76.89 118.23 L77.25 118.08 L77.62 117.91 L77.99 117.73 L78.36 117.53 L78.72 117.32 L79.09 117.10 L79.46 116.86 L79.83 116.60 L80.19 116.32 L80.56 116.03 L80.93 115.72 L81.30 115.38 L81.66 115.03 L82.03 114.65 L82.40 114.25 L82.77 113.82 L83.13 113.37 L83.50 112.89 L83.87 112.38 L84.24 111.85 L84.60 111.28 L84.97 110.68 L85.34 110.06 L85.71 109.39 L86.07 108.70 L86.44 107.97 L86.81 107.20 L87.18 106.40 L87.55 105.56 L87.91 104.69 L88.28 103.77 L88.65 102.82 L89.01 101.82 L89.38 100.79 L89.75 99.72 L90.12 98.60 L90.48 97.44 L90.85 96.24 L91.22 95.01 L91.59 93.73 L91.95 92.40 L92.32 91.04 L92.69 89.64 L93.06 88.20 L93.42 86.72 L93.79 85.21 L94.16 83.65 L94.53 82.07 L94.89 80.45 L95.26 78.79 L95.63 77.11 L96.00 75.40 L96.36 73.66 L96.73 71.89 L97.10 70.11 L97.47 68.30 L97.83 66.48 L98.20 64.64 L98.57 62.79 L98.94 60.94 L99.30 59.07 L99.67 57.21 L100.04 55.35 L100.41 53.49 L100.77 51.63 L101.14 49.80 L101.51 47.97 L101.88 46.17 L102.25 44.38 L102.61 42.63 L102.98 40.90 L103.35 39.21 L103.72 37.56 L104.08 35.95 L104.45 34.38 L104.82 32.87 L105.19 31.41 L105.55 30.00 L105.92 28.65 L106.29 27.37 L106.66 26.15 L107.02 25.01 L107.39 23.93 L107.76 22.93 L108.12 22.01 L108.49 21.17 L108.86 20.41 L109.23 19.74 L109.59 19.15 L109.96 18.65 L110.33 18.24 L110.70 17.91 L111.06 17.68 L111.43 17.55 L111.80 17.50 L112.17 17.55 L112.53 17.68 L112.90 17.91 L113.26 18.24 L113.63 18.65 L114.00 19.15 L114.36 19.74 L114.73 20.41 L115.09 21.17 L115.46 22.01 L115.83 22.93 L116.19 23.93 L116.56 25.01 L116.93 26.15 L117.31 27.37 L117.71 28.65 L118.12 30.00 L118.53 31.41 L118.96 32.87 L119.39 34.38 L119.81 35.95 L120.23 37.56 L120.63 39.21 L121.03 40.90 L121.51 42.63 L122.04 44.38 L122.60 46.17 L123.17 47.97 L123.72 49.80 L124.21 51.63 L124.64 53.49 L125.06 55.35 L125.49 57.21 L125.93 59.07 L126.37 60.94 L126.80 62.79 L127.23 64.64 L127.64 66.48 L128.04 68.30 L128.41 70.11 L128.78 71.89 L129.13 73.66 L129.47 75.40 L129.81 77.11 L130.16 78.79 L130.51 80.45 L130.87 82.07 L131.25 83.65 L131.64 85.21 L132.05 86.72 L132.45 88.20 L132.86 89.64 L133.26 91.04 L133.67 92.40 L134.07 93.73 L134.48 95.01 L134.88 96.24 L135.29 97.44 L135.69 98.60 L136.10 99.72 L136.50 100.79 L136.91 101.82 L137.31 102.82 L137.72 103.77 L138.12 104.69 L138.53 105.56 L138.94 106.40 L139.34 107.20 L139.75 107.97 L140.15 108.70 L140.56 109.39 L140.96 110.06 L141.37 110.68 L141.77 111.28 L142.18 111.85 L142.58 112.38 L142.99 112.89 L143.39 113.37 L143.79 113.82 L144.20 114.25 L144.60 114.65 L145.01 115.03 L145.41 115.38 L145.82 115.72 L146.22 116.03 L146.63 116.32 L147.03 116.60 L147.44 116.86 L147.84 117.10 L148.25 117.32 L148.66 117.53 L149.06 117.73 L149.47 117.91 L149.87 118.08 L150.28 118.23 L150.68 118.38 L151.09 118.51 L151.49 118.64 L151.90 118.75 L152.30 118.86 L152.70 118.96 L153.11 119.05 L153.51 119.13 L153.92 119.21 L154.32 119.28 L154.73 119.35 L155.13 119.41 L155.54 119.46 L155.94 119.51 L156.35 119.56 L156.75 119.60 L157.16 119.64 L157.56 119.67 L157.97 119.70 L158.38 119.73 L158.78 119.76 L159.19 119.78 L159.59 119.81 L160.00 119.82 L160.40 119.84 L160.81 119.86 L161.21 119.87 L161.62 119.89 L162.02 119.90 L162.43 119.91 L162.83 119.92 L163.24 119.93 L163.64 119.94 L164.05 119.94 L164.45 119.95 L164.85 119.95 L165.26 119.96 L165.66 119.96 L166.07 119.97 L166.47 119.97 L166.88 119.98 L167.28 119.98 L167.69 119.98 L168.09 119.98 L168.50 119.98 L174.00 120.00" stroke="#1a1aff" stroke-dasharray="6 2.8 1.5 2.8"/>
<path d="M77.00 120.00 L79.17 119.98 L79.35 119.98 L79.54 119.98 L79.72 119.98 L79.91 119.98 L80.09 119.97 L80.28 119.97 L80.46 119.96 L80.65 119.96 L80.83 119.95 L81.02 119.95 L81.20 119.94 L81.38 119.94 L81.57 119.93 L81.75 119.92 L81.94 119.91 L82.12 119.90 L82.31 119.89 L82.49 119.87 L82.68 119.86 L82.86 119.84 L83.04 119.82 L83.23 119.81 L83.41 119.78 L83.60 119.76 L83.78 119.73 L83.97 119.70 L84.15 119.67 L84.34 119.64 L84.52 119.60 L84.70 119.56 L84.89 119.51 L85.07 119.46 L85.26 119.41 L85.44 119.35 L85.63 119.28 L85.81 119.21 L86.00 119.13 L86.18 119.05 L86.37 118.96 L86.55 118.86 L86.73 118.75 L86.92 118.64 L87.10 118.51 L87.29 118.38 L87.47 118.23 L87.66 118.08 L87.84 117.91 L88.03 117.73 L88.21 117.53 L88.39 117.32 L88.58 117.10 L88.76 116.86 L88.95 116.60 L89.13 116.32 L89.32 116.03 L89.50 115.72 L89.69 115.38 L89.86 115.03 L90.03 114.65 L90.20 114.25 L90.35 113.82 L90.51 113.37 L90.66 112.89 L90.80 112.38 L90.95 111.85 L91.10 111.28 L91.24 110.68 L91.39 110.06 L91.54 109.39 L91.70 108.70 L91.85 107.97 L92.01 107.20 L92.18 106.40 L92.35 105.56 L92.53 104.69 L92.71 103.77 L92.90 102.82 L93.09 101.82 L93.26 100.79 L93.43 99.72 L93.60 98.60 L93.76 97.44 L93.92 96.24 L94.08 95.01 L94.24 93.73 L94.40 92.40 L94.56 91.04 L94.73 89.64 L94.90 88.20 L95.07 86.72 L95.25 85.21 L95.43 83.65 L95.63 82.07 L95.82 80.45 L96.02 78.79 L96.23 77.11 L96.43 75.40 L96.63 73.66 L96.84 71.89 L97.04 70.11 L97.25 68.30 L97.45 66.48 L97.66 64.64 L97.86 62.79 L98.06 60.94 L98.26 59.07 L98.46 57.21 L98.66 55.35 L98.86 53.49 L99.06 51.63 L99.26 49.80 L99.46 47.97 L99.65 46.17 L99.85 44.38 L100.05 42.63 L100.25 40.90 L100.45 39.21 L100.64 37.56 L100.84 35.95 L101.04 34.38 L101.24 32.87 L101.44 31.41 L101.63 30.00 L101.83 28.65 L102.03 27.37 L102.23 26.15 L102.43 25.01 L102.62 23.93 L102.82 22.93 L103.02 22.01 L103.22 21.17 L103.42 20.41 L103.61 19.74 L103.81 19.15 L104.01 18.65 L104.21 18.24 L104.41 17.91 L104.60 17.68 L104.80 17.55 L105.00 17.50 L105.20 17.55 L105.40 17.68 L105.59 17.91 L105.79 18.24 L105.99 18.65 L106.19 19.15 L106.39 19.74 L106.58 20.41 L106.78 21.17 L106.98 22.01 L107.18 22.93 L107.38 23.93 L107.57 25.01 L107.77 26.15 L107.97 27.37 L108.17 28.65 L108.37 30.00 L108.56 31.41 L108.76 32.87 L108.96 34.38 L109.16 35.95 L109.36 37.56 L109.55 39.21 L109.75 40.90 L109.95 42.63 L110.15 44.38 L110.35 46.17 L110.54 47.97 L110.74 49.80 L110.94 51.63 L111.14 53.49 L111.34 55.35 L111.54 57.21 L111.74 59.07 L111.94 60.94 L112.14 62.79 L112.34 64.64 L112.55 66.48 L112.75 68.30 L112.96 70.11 L113.16 71.89 L113.37 73.66 L113.57 75.40 L113.77 77.11 L113.98 78.79 L114.18 80.45 L114.37 82.07 L114.57 83.65 L114.75 85.21 L114.93 86.72 L115.10 88.20 L115.27 89.64 L115.44 91.04 L115.60 92.40 L115.76 93.73 L115.92 95.01 L116.08 96.24 L116.24 97.44 L116.40 98.60 L116.57 99.72 L116.74 100.79 L116.91 101.82 L117.10 102.82 L117.29 103.77 L117.47 104.69 L117.65 105.56 L117.82 106.40 L117.99 107.20 L118.15 107.97 L118.30 108.70 L118.46 109.39 L118.61 110.06 L118.76 110.68 L118.90 111.28 L119.05 111.85 L119.20 112.38 L119.34 112.89 L119.49 113.37 L119.65 113.82 L119.80 114.25 L119.97 114.65 L120.14 115.03 L120.31 115.38 L120.50 115.72 L120.68 116.03 L120.87 116.32 L121.05 116.60 L121.24 116.86 L121.42 117.10 L121.61 117.32 L121.79 117.53 L121.97 117.73 L122.16 117.91 L122.34 118.08 L122.53 118.23 L122.71 118.38 L122.90 118.51 L123.08 118.64 L123.27 118.75 L123.45 118.86 L123.63 118.96 L123.82 119.05 L124.00 119.13 L124.19 119.21 L124.37 119.28 L124.56 119.35 L124.74 119.41 L124.93 119.46 L125.11 119.51 L125.30 119.56 L125.48 119.60 L125.66 119.64 L125.85 119.67 L126.03 119.70 L126.22 119.73 L126.40 119.76 L126.59 119.78 L126.77 119.81 L126.96 119.82 L127.14 119.84 L127.32 119.86 L127.51 119.87 L127.69 119.89 L127.88 119.90 L128.06 119.91 L128.25 119.92 L128.43 119.93 L128.62 119.94 L128.80 119.94 L128.99 119.95 L129.17 119.95 L129.35 119.96 L129.54 119.96 L129.72 119.97 L129.91 119.97 L130.09 119.98 L130.28 119.98 L130.46 119.98 L130.65 119.98 L130.83 119.98 L131.70 120.00" stroke="#ff1a1a" stroke-dasharray="6 5.5"/>
<path d="M83.50 120.00 L87.03 119.98 L87.16 119.98 L87.29 119.98 L87.42 119.98 L87.55 119.98 L87.68 119.97 L87.81 119.97 L87.94 119.96 L88.07 119.96 L88.20 119.95 L88.33 119.95 L88.47 119.94 L88.60 119.94 L88.73 119.93 L88.86 119.92 L88.99 119.91 L89.12 119.90 L89.25 119.89 L89.38 119.87 L89.51 119.86 L89.64 119.84 L89.77 119.82 L89.90 119.81 L90.03 119.78 L90.16 119.76 L90.29 119.73 L90.42 119.70 L90.55 119.67 L90.68 119.64 L90.81 119.60 L90.94 119.56 L91.08 119.51 L91.21 119.46 L91.34 119.41 L91.47 119.35 L91.60 119.28 L91.73 119.21 L91.86 119.13 L91.99 119.05 L92.12 118.96 L92.25 118.86 L92.38 118.75 L92.51 118.64 L92.64 118.51 L92.77 118.38 L92.90 118.23 L93.03 118.08 L93.16 117.91 L93.29 117.73 L93.42 117.53 L93.55 117.32 L93.69 117.10 L93.82 116.86 L93.95 116.60 L94.08 116.32 L94.21 116.03 L94.34 115.72 L94.47 115.38 L94.60 115.03 L94.72 114.65 L94.85 114.25 L94.98 113.82 L95.10 113.37 L95.22 112.89 L95.35 112.38 L95.47 111.85 L95.59 111.28 L95.72 110.68 L95.84 110.06 L95.96 109.39 L96.09 108.70 L96.21 107.97 L96.34 107.20 L96.46 106.40 L96.59 105.56 L96.72 104.69 L96.85 103.77 L96.98 102.82 L97.09 101.82 L97.19 100.79 L97.26 99.72 L97.33 98.60 L97.38 97.44 L97.44 96.24 L97.49 95.01 L97.54 93.73 L97.61 92.40 L97.68 91.04 L97.76 89.64 L97.85 88.20 L97.97 86.72 L98.10 85.21 L98.24 83.65 L98.39 82.07 L98.54 80.45 L98.70 78.79 L98.85 77.11 L99.00 75.40 L99.16 73.66 L99.31 71.89 L99.47 70.11 L99.62 68.30 L99.78 66.48 L99.93 64.64 L100.08 62.79 L100.24 60.94 L100.39 59.07 L100.54 57.21 L100.69 55.35 L100.83 53.49 L100.98 51.63 L101.12 49.80 L101.27 47.97 L101.41 46.17 L101.56 44.38 L101.70 42.63 L101.84 40.90 L101.99 39.21 L102.13 37.56 L102.28 35.95 L102.42 34.38 L102.56 32.87 L102.71 31.41 L102.85 30.00 L103.00 28.65 L103.14 27.37 L103.28 26.15 L103.43 25.01 L103.57 23.93 L103.72 22.93 L103.86 22.01 L104.00 21.17 L104.15 20.41 L104.29 19.74 L104.44 19.15 L104.58 18.65 L104.72 18.24 L104.87 17.91 L105.01 17.68 L105.16 17.55 L105.30 17.50 L105.41 17.55 L105.53 17.68 L105.64 17.91 L105.76 18.24 L105.87 18.65 L105.98 19.15 L106.10 19.74 L106.21 20.41 L106.33 21.17 L106.44 22.01 L106.55 22.93 L106.67 23.93 L106.78 25.01 L106.90 26.15 L107.01 27.37 L107.12 28.65 L107.24 30.00 L107.35 31.41 L107.46 32.87 L107.56 34.38 L107.66 35.95 L107.76 37.56 L107.85 39.21 L107.94 40.90 L108.04 42.63 L108.13 44.38 L108.23 46.17 L108.33 47.97 L108.43 49.80 L108.54 51.63 L108.66 53.49 L108.78 55.35 L108.91 57.21 L109.05 59.07 L109.19 60.94 L109.34 62.79 L109.49 64.64 L109.64 66.48 L109.80 68.30 L109.96 70.11 L110.12 71.89 L110.28 73.66 L110.44 75.40 L110.60 77.11 L110.75 78.79 L110.90 80.45 L111.04 82.07 L111.17 83.65 L111.30 85.21 L111.42 86.72 L111.54 88.20 L111.66 89.64 L111.77 91.04 L111.89 92.40 L112.01 93.73 L112.12 95.01 L112.24 96.24 L112.35 97.44 L112.47 98.60 L112.58 99.72 L112.70 100.79 L112.82 101.82 L112.94 102.82 L113.06 103.77 L113.18 104.69 L113.30 105.56 L113.43 106.40 L113.55 107.20 L113.67 107.97 L113.80 108.70 L113.93 109.39 L114.05 110.06 L114.18 110.68 L114.31 111.28 L114.43 111.85 L114.56 112.38 L114.69 112.89 L114.81 113.37 L114.94 113.82 L115.06 114.25 L115.19 114.65 L115.31 115.03 L115.43 115.38 L115.56 115.72 L115.68 116.03 L115.80 116.32 L115.92 116.60 L116.04 116.86 L116.17 117.10 L116.29 117.32 L116.41 117.53 L116.53 117.73 L116.66 117.91 L116.78 118.08 L116.90 118.23 L117.02 118.38 L117.14 118.51 L117.27 118.64 L117.39 118.75 L117.51 118.86 L117.63 118.96 L117.75 119.05 L117.88 119.13 L118.00 119.21 L118.12 119.28 L118.24 119.35 L118.36 119.41 L118.49 119.46 L118.61 119.51 L118.73 119.56 L118.85 119.60 L118.98 119.64 L119.10 119.67 L119.22 119.70 L119.34 119.73 L119.46 119.76 L119.59 119.78 L119.71 119.81 L119.83 119.82 L119.95 119.84 L120.07 119.86 L120.20 119.87 L120.32 119.89 L120.44 119.90 L120.56 119.91 L120.68 119.92 L120.81 119.93 L120.93 119.94 L121.05 119.94 L121.17 119.95 L121.30 119.95 L121.42 119.96 L121.54 119.96 L121.66 119.97 L121.78 119.97 L121.91 119.98 L122.03 119.98 L122.15 119.98 L122.27 119.98 L122.39 119.98 L124.60 120.00" stroke="#000"/>
</g>
<g clip-path="url(#clip01)" fill="none" stroke-width="1.5" stroke-linejoin="round">
<path d="M185.40 120.00 L188.62 119.98 L189.02 119.98 L189.42 119.98 L189.83 119.98 L190.23 119.98 L190.63 119.97 L191.03 119.97 L191.43 119.96 L191.84 119.96 L192.24 119.95 L192.64 119.95 L193.04 119.94 L193.44 119.94 L193.85 119.93 L194.25 119.92 L194.65 119.91 L195.05 119.90 L195.45 119.89 L195.86 119.87 L196.26 119.86 L196.66 119.84 L197.06 119.82 L197.46 119.81 L197.87 119.78 L198.27 119.76 L198.67 119.73 L199.07 119.70 L199.47 119.67 L199.88 119.64 L200.28 119.60 L200.68 119.56 L201.07 119.51 L201.45 119.46 L201.81 119.41 L202.15 119.35 L202.49 119.28 L202.81 119.21 L203.13 119.13 L203.45 119.05 L203.76 118.96 L204.07 118.86 L204.39 118.75 L204.70 118.64 L205.02 118.51 L205.35 118.38 L205.68 118.23 L206.02 118.08 L206.38 117.91 L206.74 117.73 L207.12 117.53 L207.51 117.32 L207.92 117.10 L208.34 116.86 L208.75 116.60 L209.17 116.32 L209.59 116.03 L210.01 115.72 L210.43 115.38 L210.85 115.03 L211.27 114.65 L211.70 114.25 L212.12 113.82 L212.54 113.37 L212.96 112.89 L213.38 112.38 L213.80 111.85 L214.22 111.28 L214.65 110.68 L215.07 110.06 L215.49 109.39 L215.90 108.70 L216.32 107.97 L216.74 107.20 L217.16 106.40 L217.57 105.56 L217.99 104.69 L218.40 103.77 L218.82 102.82 L219.24 101.82 L219.66 100.79 L220.08 99.72 L220.50 98.60 L220.93 97.44 L221.35 96.24 L221.78 95.01 L222.20 93.73 L222.63 92.40 L223.05 91.04 L223.48 89.64 L223.90 88.20 L224.32 86.72 L224.74 85.21 L225.16 83.65 L225.58 82.07 L225.99 80.45 L226.40 78.79 L226.82 77.11 L227.23 75.40 L227.64 73.66 L228.06 71.89 L228.48 70.11 L228.90 68.30 L229.32 66.48 L229.74 64.64 L230.15 62.79 L230.57 60.94 L230.99 59.07 L231.41 57.21 L231.82 55.35 L232.24 53.49 L232.65 51.63 L233.06 49.80 L233.47 47.97 L233.88 46.17 L234.30 44.38 L234.73 42.63 L235.18 40.90 L235.64 39.21 L236.09 37.56 L236.53 35.95 L236.96 34.38 L237.37 32.87 L237.77 31.41 L238.17 30.00 L238.56 28.65 L238.96 27.37 L239.36 26.15 L239.75 25.01 L240.15 23.93 L240.54 22.93 L240.94 22.01 L241.34 21.17 L241.73 20.41 L242.13 19.74 L242.52 19.15 L242.92 18.65 L243.32 18.24 L243.71 17.91 L244.11 17.68 L244.50 17.55 L244.90 17.50 L245.44 17.55 L245.98 17.68 L246.52 17.91 L247.06 18.24 L247.60 18.65 L248.14 19.15 L248.68 19.74 L249.22 20.41 L249.76 21.17 L250.30 22.01 L250.82 22.93 L251.30 23.93 L251.75 25.01 L252.19 26.15 L252.62 27.37 L253.07 28.65 L253.57 30.00 L254.03 31.41 L254.44 32.87 L254.80 34.38 L255.14 35.95 L255.46 37.56 L255.78 39.21 L256.13 40.90 L256.53 42.63 L256.99 44.38 L257.45 46.17 L257.90 47.97 L258.34 49.80 L258.78 51.63 L259.22 53.49 L259.65 55.35 L260.07 57.21 L260.49 59.07 L260.91 60.94 L261.32 62.79 L261.74 64.64 L262.15 66.48 L262.57 68.30 L262.98 70.11 L263.40 71.89 L263.83 73.66 L264.26 75.40 L264.70 77.11 L265.15 78.79 L265.63 80.45 L266.13 82.07 L266.64 83.65 L267.18 85.21 L267.73 86.72 L268.28 88.20 L268.85 89.64 L269.41 91.04 L269.97 92.40 L270.52 93.73 L271.05 95.01 L271.56 96.24 L272.04 97.44 L272.51 98.60 L272.96 99.72 L273.41 100.79 L273.85 101.82 L274.28 102.82 L274.72 103.77 L275.16 104.69 L275.61 105.56 L276.06 106.40 L276.52 107.20 L276.97 107.97 L277.40 108.70 L277.82 109.39 L278.22 110.06 L278.61 110.68 L279.00 111.28 L279.39 111.85 L279.77 112.38 L280.16 112.89 L280.56 113.37 L280.97 113.82 L281.39 114.25 L281.84 114.65 L282.29 115.03 L282.75 115.38 L283.21 115.72 L283.67 116.03 L284.14 116.32 L284.60 116.60 L285.07 116.86 L285.53 117.10 L286.00 117.32 L286.47 117.53 L286.94 117.73 L287.41 117.91 L287.88 118.08 L288.36 118.23 L288.83 118.38 L289.30 118.51 L289.77 118.64 L290.25 118.75 L290.72 118.86 L291.19 118.96 L291.66 119.05 L292.13 119.13 L292.60 119.21 L293.07 119.28 L293.54 119.35 L294.00 119.41 L294.47 119.46 L294.93 119.51 L295.39 119.56 L295.85 119.60 L296.31 119.64 L296.77 119.67 L297.23 119.70 L297.69 119.73 L298.14 119.76 L298.60 119.78 L299.06 119.81 L299.52 119.82 L299.98 119.84 L300.44 119.86 L300.90 119.87 L301.36 119.89 L301.82 119.90 L302.27 119.91 L302.73 119.92 L303.19 119.93 L303.65 119.94 L304.11 119.94 L304.57 119.95 L305.03 119.95 L305.49 119.96 L305.95 119.96 L306.41 119.97 L306.87 119.97 L307.32 119.98 L307.78 119.98 L308.24 119.98 L308.70 119.98 L309.16 119.98 L318.50 120.00" stroke="#1a1aff" stroke-dasharray="6 2.8 1.5 2.8"/>
<path d="M215.50 119.96 L215.56 119.96 L215.91 119.95 L216.25 119.95 L216.60 119.94 L216.94 119.94 L217.29 119.93 L217.63 119.92 L217.98 119.91 L218.32 119.90 L218.67 119.89 L219.01 119.87 L219.36 119.86 L219.70 119.84 L220.05 119.82 L220.39 119.81 L220.74 119.78 L221.10 119.76 L221.52 119.73 L222.00 119.70 L222.54 119.67 L223.10 119.64 L223.70 119.60 L224.31 119.56 L224.93 119.51 L225.56 119.46 L226.17 119.41 L226.77 119.35 L227.34 119.28 L227.89 119.21 L228.39 119.13 L228.85 119.05 L229.25 118.96 L229.60 118.86 L229.91 118.75 L230.22 118.64 L230.52 118.51 L230.82 118.38 L231.11 118.23 L231.41 118.08 L231.70 117.91 L231.99 117.73 L232.28 117.53 L232.58 117.32 L232.87 117.10 L233.17 116.86 L233.47 116.60 L233.77 116.32 L234.08 116.03 L234.39 115.72 L234.71 115.38 L235.02 115.03 L235.32 114.65 L235.63 114.25 L235.93 113.82 L236.22 113.37 L236.52 112.89 L236.81 112.38 L237.11 111.85 L237.41 111.28 L237.71 110.68 L238.01 110.06 L238.32 109.39 L238.63 108.70 L238.95 107.97 L239.26 107.20 L239.54 106.40 L239.81 105.56 L240.06 104.69 L240.31 103.77 L240.55 102.82 L240.81 101.82 L241.07 100.79 L241.35 99.72 L241.64 98.60 L241.96 97.44 L242.26 96.24 L242.52 95.01 L242.74 93.73 L242.94 92.40 L243.12 91.04 L243.29 89.64 L243.46 88.20 L243.64 86.72 L243.84 85.21 L244.06 83.65 L244.31 82.07 L244.59 80.45 L244.91 78.79 L245.26 77.11 L245.60 75.40 L245.92 73.66 L246.23 71.89 L246.53 70.11 L246.83 68.30 L247.12 66.48 L247.40 64.64 L247.69 62.79 L247.98 60.94 L248.28 59.07 L248.58 57.21 L248.89 55.35 L249.21 53.49 L249.53 51.63 L249.87 49.80 L250.22 47.97 L250.59 46.17 L250.96 44.38 L251.35 42.63 L251.72 40.90 L252.07 39.21 L252.40 37.56 L252.73 35.95 L253.05 34.38 L253.37 32.87 L253.70 31.41 L254.04 30.00 L254.38 28.65 L254.74 27.37 L255.12 26.15 L255.50 25.01 L255.91 23.93 L256.32 22.93 L256.75 22.01 L257.19 21.17 L257.62 20.41 L258.06 19.74 L258.49 19.15 L258.93 18.65 L259.36 18.24 L259.80 17.91 L260.23 17.68 L260.67 17.55 L261.10 17.50 L261.39 17.55 L261.68 17.68 L261.96 17.91 L262.25 18.24 L262.54 18.65 L262.83 19.15 L263.12 19.74 L263.40 20.41 L263.69 21.17 L263.98 22.01 L264.27 22.93 L264.56 23.93 L264.84 25.01 L265.13 26.15 L265.44 27.37 L265.75 28.65 L266.08 30.00 L266.42 31.41 L266.78 32.87 L267.14 34.38 L267.51 35.95 L267.88 37.56 L268.26 39.21 L268.63 40.90 L268.99 42.63 L269.35 44.38 L269.68 46.17 L270.01 47.97 L270.33 49.80 L270.66 51.63 L270.99 53.49 L271.33 55.35 L271.68 57.21 L272.02 59.07 L272.38 60.94 L272.73 62.79 L273.09 64.64 L273.45 66.48 L273.81 68.30 L274.17 70.11 L274.53 71.89 L274.89 73.66 L275.24 75.40 L275.59 77.11 L275.94 78.79 L276.28 80.45 L276.61 82.07 L276.98 83.65 L277.38 85.21 L277.79 86.72 L278.19 88.20 L278.57 89.64 L278.91 91.04 L279.23 92.40 L279.55 93.73 L279.86 95.01 L280.17 96.24 L280.47 97.44 L280.77 98.60 L281.06 99.72 L281.36 100.79 L281.65 101.82 L281.95 102.82 L282.25 103.77 L282.56 104.69 L282.88 105.56 L283.21 106.40 L283.55 107.20 L283.89 107.97 L284.24 108.70 L284.60 109.39 L284.96 110.06 L285.33 110.68 L285.69 111.28 L286.06 111.85 L286.43 112.38 L286.79 112.89 L287.15 113.37 L287.51 113.82 L287.85 114.25 L288.19 114.65 L288.53 115.03 L288.85 115.38 L289.17 115.72 L289.49 116.03 L289.80 116.32 L290.11 116.60 L290.41 116.86 L290.72 117.10 L291.02 117.32 L291.32 117.53 L291.62 117.73 L291.92 117.91 L292.22 118.08 L292.52 118.23 L292.83 118.38 L293.14 118.51 L293.45 118.64 L293.77 118.75 L294.10 118.86 L294.45 118.96 L294.83 119.05 L295.25 119.13 L295.69 119.21 L296.15 119.28 L296.62 119.35 L297.10 119.41 L297.58 119.46 L298.05 119.51 L298.51 119.56 L298.95 119.60 L299.37 119.64 L299.74 119.67 L300.09 119.70 L300.43 119.73 L300.77 119.76 L301.11 119.78 L301.46 119.81 L301.80 119.82 L302.14 119.84 L302.48 119.86 L302.82 119.87 L303.17 119.89 L303.51 119.90 L303.85 119.91 L304.19 119.92 L304.53 119.93 L304.88 119.94 L305.22 119.94 L305.56 119.95 L305.90 119.95 L306.24 119.96 L306.59 119.96 L306.93 119.97 L307.27 119.97 L307.61 119.98 L307.95 119.98 L308.30 119.98 L308.64 119.98 L308.98 119.98 L318.50 120.00" stroke="#ff1a1a" stroke-dasharray="6 5.5"/>
<path d="M221.80 119.91 L221.93 119.91 L222.18 119.90 L222.44 119.89 L222.69 119.87 L222.94 119.86 L223.20 119.84 L223.46 119.82 L223.71 119.81 L223.97 119.78 L224.22 119.76 L224.48 119.73 L224.73 119.70 L224.99 119.67 L225.24 119.64 L225.50 119.60 L225.75 119.56 L226.00 119.51 L226.26 119.46 L226.52 119.41 L226.77 119.35 L227.03 119.28 L227.28 119.21 L227.53 119.13 L227.79 119.05 L228.05 118.96 L228.30 118.86 L228.56 118.75 L228.81 118.64 L229.06 118.51 L229.32 118.38 L229.58 118.23 L229.83 118.08 L230.09 117.91 L230.34 117.73 L230.60 117.53 L230.85 117.32 L231.11 117.10 L231.36 116.86 L231.62 116.60 L231.87 116.32 L232.12 116.03 L232.38 115.72 L232.64 115.38 L232.89 115.03 L233.15 114.65 L233.40 114.25 L233.66 113.82 L233.91 113.37 L234.17 112.89 L234.42 112.38 L234.68 111.85 L234.93 111.28 L235.19 110.68 L235.44 110.06 L235.70 109.39 L235.95 108.70 L236.21 107.97 L236.46 107.20 L236.72 106.40 L236.97 105.56 L237.23 104.69 L237.48 103.77 L237.74 102.82 L237.99 101.82 L238.25 100.79 L238.50 99.72 L238.76 98.60 L239.01 97.44 L239.27 96.24 L239.52 95.01 L239.78 93.73 L240.03 92.40 L240.29 91.04 L240.54 89.64 L240.80 88.20 L241.05 86.72 L241.31 85.21 L241.56 83.65 L241.81 82.07 L242.07 80.45 L242.33 78.79 L242.58 77.11 L242.84 75.40 L243.09 73.66 L243.34 71.89 L243.60 70.11 L243.86 68.30 L244.11 66.48 L244.37 64.64 L244.62 62.79 L244.88 60.94 L245.13 59.07 L245.39 57.21 L245.64 55.35 L245.90 53.49 L246.15 51.63 L246.41 49.80 L246.66 47.97 L246.92 46.17 L247.17 44.38 L247.43 42.63 L247.68 40.90 L247.94 39.21 L248.19 37.56 L248.45 35.95 L248.70 34.38 L248.96 32.87 L249.21 31.41 L249.47 30.00 L249.72 28.65 L249.98 27.37 L250.23 26.15 L250.49 25.01 L250.74 23.93 L251.00 22.93 L251.25 22.01 L251.51 21.17 L251.76 20.41 L252.02 19.74 L252.27 19.15 L252.53 18.65 L252.78 18.24 L253.04 17.91 L253.29 17.68 L253.55 17.55 L253.80 17.50 L254.06 17.55 L254.31 17.68 L254.56 17.91 L254.82 18.24 L255.08 18.65 L255.33 19.15 L255.59 19.74 L255.84 20.41 L256.10 21.17 L256.35 22.01 L256.61 22.93 L256.86 23.93 L257.12 25.01 L257.37 26.15 L257.62 27.37 L257.88 28.65 L258.13 30.00 L258.39 31.41 L258.65 32.87 L258.90 34.38 L259.16 35.95 L259.41 37.56 L259.67 39.21 L259.92 40.90 L260.18 42.63 L260.43 44.38 L260.69 46.17 L260.94 47.97 L261.19 49.80 L261.45 51.63 L261.71 53.49 L261.96 55.35 L262.22 57.21 L262.47 59.07 L262.73 60.94 L262.98 62.79 L263.24 64.64 L263.49 66.48 L263.75 68.30 L264.00 70.11 L264.25 71.89 L264.51 73.66 L264.76 75.40 L265.02 77.11 L265.28 78.79 L265.53 80.45 L265.79 82.07 L266.04 83.65 L266.30 85.21 L266.55 86.72 L266.81 88.20 L267.06 89.64 L267.31 91.04 L267.57 92.40 L267.82 93.73 L268.08 95.01 L268.34 96.24 L268.59 97.44 L268.85 98.60 L269.10 99.72 L269.36 100.79 L269.61 101.82 L269.87 102.82 L270.12 103.77 L270.38 104.69 L270.63 105.56 L270.88 106.40 L271.14 107.20 L271.40 107.97 L271.65 108.70 L271.91 109.39 L272.16 110.06 L272.42 110.68 L272.67 111.28 L272.93 111.85 L273.18 112.38 L273.44 112.89 L273.69 113.37 L273.94 113.82 L274.20 114.25 L274.45 114.65 L274.71 115.03 L274.97 115.38 L275.22 115.72 L275.48 116.03 L275.73 116.32 L275.99 116.60 L276.24 116.86 L276.50 117.10 L276.75 117.32 L277.00 117.53 L277.26 117.73 L277.51 117.91 L277.77 118.08 L278.03 118.23 L278.28 118.38 L278.54 118.51 L278.79 118.64 L279.05 118.75 L279.30 118.86 L279.56 118.96 L279.81 119.05 L280.06 119.13 L280.32 119.21 L280.57 119.28 L280.83 119.35 L281.09 119.41 L281.34 119.46 L281.60 119.51 L281.85 119.56 L282.11 119.60 L282.36 119.64 L282.62 119.67 L282.87 119.70 L283.12 119.73 L283.38 119.76 L283.63 119.78 L283.89 119.81 L284.15 119.82 L284.40 119.84 L284.66 119.86 L284.91 119.87 L285.17 119.89 L285.42 119.90 L285.68 119.91 L285.93 119.92 L286.19 119.93 L286.44 119.94 L286.69 119.94 L286.95 119.95 L287.21 119.95 L287.46 119.96 L287.72 119.96 L287.97 119.97 L288.23 119.97 L288.48 119.98 L288.74 119.98 L288.99 119.98 L289.25 119.98 L289.50 119.98 L290.60 120.00" stroke="#000"/>
</g>
<g clip-path="url(#clip02)" fill="none" stroke-width="1.5" stroke-linejoin="round">
<path d="M360.80 120.00 L365.84 119.98 L366.06 119.98 L366.28 119.98 L366.50 119.98 L366.72 119.98 L366.94 119.97 L367.15 119.97 L367.37 119.96 L367.59 119.96 L367.81 119.95 L368.03 119.95 L368.25 119.94 L368.47 119.94 L368.69 119.93 L368.91 119.92 L369.12 119.91 L369.34 119.90 L369.56 119.89 L369.78 119.87 L370.00 119.86 L370.22 119.84 L370.44 119.82 L370.66 119.81 L370.88 119.78 L371.11 119.76 L371.39 119.73 L371.72 119.70 L372.09 119.67 L372.49 119.64 L372.91 119.60 L373.34 119.56 L373.78 119.51 L374.22 119.46 L374.66 119.41 L375.08 119.35 L375.48 119.28 L375.86 119.21 L376.20 119.13 L376.51 119.05 L376.78 118.96 L377.00 118.86 L377.20 118.75 L377.42 118.64 L377.65 118.51 L377.90 118.38 L378.15 118.23 L378.40 118.08 L378.66 117.91 L378.93 117.73 L379.19 117.53 L379.45 117.32 L379.70 117.10 L379.95 116.86 L380.20 116.60 L380.43 116.32 L380.65 116.03 L380.86 115.72 L381.06 115.38 L381.25 115.03 L381.43 114.65 L381.61 114.25 L381.79 113.82 L381.97 113.37 L382.15 112.89 L382.32 112.38 L382.50 111.85 L382.68 111.28 L382.85 110.68 L383.03 110.06 L383.21 109.39 L383.39 108.70 L383.57 107.97 L383.75 107.20 L383.94 106.40 L384.12 105.56 L384.32 104.69 L384.51 103.77 L384.71 102.82 L384.92 101.82 L385.13 100.79 L385.34 99.72 L385.55 98.60 L385.76 97.44 L385.97 96.24 L386.19 95.01 L386.40 93.73 L386.61 92.40 L386.82 91.04 L387.03 89.64 L387.24 88.20 L387.44 86.72 L387.64 85.21 L387.83 83.65 L388.03 82.07 L388.22 80.45 L388.40 78.79 L388.58 77.11 L388.76 75.40 L388.94 73.66 L389.12 71.89 L389.30 70.11 L389.48 68.30 L389.66 66.48 L389.84 64.64 L390.02 62.79 L390.20 60.94 L390.38 59.07 L390.56 57.21 L390.74 55.35 L390.92 53.49 L391.10 51.63 L391.28 49.80 L391.46 47.97 L391.64 46.17 L391.82 44.38 L392.00 42.63 L392.18 40.90 L392.36 39.21 L392.54 37.56 L392.72 35.95 L392.90 34.38 L393.08 32.87 L393.26 31.41 L393.44 30.00 L393.62 28.65 L393.80 27.37 L393.98 26.15 L394.16 25.01 L394.34 23.93 L394.52 22.93 L394.70 22.01 L394.88 21.17 L395.06 20.41 L395.24 19.74 L395.42 19.15 L395.60 18.65 L395.78 18.24 L395.96 17.91 L396.14 17.68 L396.32 17.55 L396.50 17.50 L396.68 17.55 L396.87 17.68 L397.05 17.91 L397.23 18.24 L397.42 18.65 L397.60 19.15 L397.78 19.74 L397.96 20.41 L398.15 21.17 L398.33 22.01 L398.51 22.93 L398.70 23.93 L398.88 25.01 L399.06 26.15 L399.25 27.37 L399.43 28.65 L399.61 30.00 L399.79 31.41 L399.98 32.87 L400.16 34.38 L400.34 35.95 L400.53 37.56 L400.71 39.21 L400.89 40.90 L401.07 42.63 L401.26 44.38 L401.44 46.17 L401.62 47.97 L401.81 49.80 L401.99 51.63 L402.17 53.49 L402.36 55.35 L402.54 57.21 L402.72 59.07 L402.90 60.94 L403.09 62.79 L403.27 64.64 L403.45 66.48 L403.64 68.30 L403.82 70.11 L404.00 71.89 L404.19 73.66 L404.37 75.40 L404.55 77.11 L404.74 78.79 L404.92 80.45 L405.10 82.07 L405.28 83.65 L405.47 85.21 L405.65 86.72 L405.83 88.20 L406.02 89.64 L406.20 91.04 L406.38 92.40 L406.56 93.73 L406.75 95.01 L406.93 96.24 L407.11 97.44 L407.30 98.60 L407.48 99.72 L407.66 100.79 L407.85 101.82 L408.03 102.82 L408.21 103.77 L408.39 104.69 L408.58 105.56 L408.76 106.40 L408.95 107.20 L409.15 107.97 L409.36 108.70 L409.58 109.39 L409.81 110.06 L410.04 110.68 L410.27 111.28 L410.51 111.85 L410.74 112.38 L410.98 112.89 L411.22 113.37 L411.45 113.82 L411.68 114.25 L411.90 114.65 L412.11 115.03 L412.31 115.38 L412.50 115.72 L412.70 116.03 L412.91 116.32 L413.12 116.60 L413.33 116.86 L413.55 117.10 L413.78 117.32 L414.01 117.53 L414.24 117.73 L414.48 117.91 L414.71 118.08 L414.95 118.23 L415.19 118.38 L415.43 118.51 L415.68 118.64 L415.91 118.75 L416.15 118.86 L416.39 118.96 L416.62 119.05 L416.84 119.13 L417.06 119.21 L417.28 119.28 L417.49 119.35 L417.69 119.41 L417.88 119.46 L418.08 119.51 L418.28 119.56 L418.48 119.60 L418.68 119.64 L418.87 119.67 L419.07 119.70 L419.27 119.73 L419.47 119.76 L419.67 119.78 L419.86 119.81 L420.06 119.82 L420.26 119.84 L420.46 119.86 L420.66 119.87 L420.85 119.89 L421.05 119.90 L421.25 119.91 L421.45 119.92 L421.65 119.93 L421.84 119.94 L422.04 119.94 L422.24 119.95 L422.44 119.95 L422.64 119.96 L422.83 119.96 L423.03 119.97 L423.23 119.97 L423.43 119.98 L423.63 119.98 L423.82 119.98 L424.02 119.98 L424.22 119.98 L425.80 120.00" stroke="#1a1aff" stroke-dasharray="6 2.8 1.5 2.8"/>
<path d="M317.20 119.97 L317.39 119.97 L317.82 119.97 L318.24 119.96 L318.66 119.96 L319.09 119.95 L319.51 119.95 L319.93 119.94 L320.36 119.94 L320.78 119.93 L321.20 119.92 L321.62 119.91 L322.05 119.90 L322.47 119.89 L322.89 119.87 L323.32 119.86 L323.74 119.84 L324.16 119.82 L324.59 119.81 L325.01 119.78 L325.43 119.76 L325.86 119.73 L326.28 119.70 L326.70 119.67 L327.12 119.64 L327.55 119.60 L327.97 119.56 L328.39 119.51 L328.81 119.46 L329.23 119.41 L329.64 119.35 L330.06 119.28 L330.47 119.21 L330.88 119.13 L331.29 119.05 L331.70 118.96 L332.10 118.86 L332.51 118.75 L332.91 118.64 L333.32 118.51 L333.72 118.38 L334.13 118.23 L334.53 118.08 L334.94 117.91 L335.34 117.73 L335.74 117.53 L336.15 117.32 L336.56 117.10 L336.96 116.86 L337.37 116.60 L337.78 116.32 L338.18 116.03 L338.59 115.72 L339.01 115.38 L339.42 115.03 L339.83 114.65 L340.24 114.25 L340.66 113.82 L341.08 113.37 L341.50 112.89 L341.92 112.38 L342.34 111.85 L342.76 111.28 L343.19 110.68 L343.61 110.06 L344.04 109.39 L344.46 108.70 L344.87 107.97 L345.26 107.20 L345.64 106.40 L346.01 105.56 L346.38 104.69 L346.74 103.77 L347.10 102.82 L347.46 101.82 L347.82 100.79 L348.19 99.72 L348.56 98.60 L348.94 97.44 L349.33 96.24 L349.72 95.01 L350.13 93.73 L350.54 92.40 L350.97 91.04 L351.41 89.64 L351.83 88.20 L352.24 86.72 L352.63 85.21 L353.02 83.65 L353.42 82.07 L353.83 80.45 L354.25 78.79 L354.70 77.11 L355.12 75.40 L355.52 73.66 L355.90 71.89 L356.28 70.11 L356.64 68.30 L357.00 66.48 L357.35 64.64 L357.71 62.79 L358.08 60.94 L358.45 59.07 L358.84 57.21 L359.24 55.35 L359.65 53.49 L360.07 51.63 L360.52 49.80 L360.98 47.97 L361.46 46.17 L361.89 44.38 L362.30 42.63 L362.69 40.90 L363.08 39.21 L363.50 37.56 L363.94 35.95 L364.42 34.38 L364.89 32.87 L365.30 31.41 L365.69 30.00 L366.06 28.65 L366.44 27.37 L366.85 26.15 L367.28 25.01 L367.74 23.93 L368.25 22.93 L368.80 22.01 L369.37 21.17 L369.94 20.41 L370.51 19.74 L371.08 19.15 L371.65 18.65 L372.22 18.24 L372.79 17.91 L373.36 17.68 L373.93 17.55 L374.50 17.50 L374.89 17.55 L375.28 17.68 L375.67 17.91 L376.06 18.24 L376.45 18.65 L376.84 19.15 L377.23 19.74 L377.62 20.41 L378.01 21.17 L378.40 22.01 L378.78 22.93 L379.16 23.93 L379.52 25.01 L379.87 26.15 L380.21 27.37 L380.55 28.65 L380.89 30.00 L381.23 31.41 L381.58 32.87 L381.94 34.38 L382.31 35.95 L382.68 37.56 L383.05 39.21 L383.42 40.90 L383.78 42.63 L384.15 44.38 L384.51 46.17 L384.87 47.97 L385.23 49.80 L385.59 51.63 L385.95 53.49 L386.31 55.35 L386.67 57.21 L387.02 59.07 L387.38 60.94 L387.74 62.79 L388.09 64.64 L388.45 66.48 L388.80 68.30 L389.16 70.11 L389.52 71.89 L389.88 73.66 L390.24 75.40 L390.60 77.11 L390.97 78.79 L391.36 80.45 L391.77 82.07 L392.20 83.65 L392.65 85.21 L393.12 86.72 L393.60 88.20 L394.10 89.64 L394.61 91.04 L395.12 92.40 L395.64 93.73 L396.17 95.01 L396.69 96.24 L397.21 97.44 L397.72 98.60 L398.22 99.72 L398.71 100.79 L399.18 101.82 L399.62 102.82 L400.04 103.77 L400.44 104.69 L400.85 105.56 L401.27 106.40 L401.70 107.20 L402.13 107.97 L402.58 108.70 L403.02 109.39 L403.47 110.06 L403.93 110.68 L404.39 111.28 L404.86 111.85 L405.32 112.38 L405.79 112.89 L406.25 113.37 L406.72 113.82 L407.18 114.25 L407.64 114.65 L408.09 115.03 L408.54 115.38 L408.99 115.72 L409.42 116.03 L409.84 116.32 L410.26 116.60 L410.67 116.86 L411.08 117.10 L411.49 117.32 L411.90 117.53 L412.31 117.73 L412.72 117.91 L413.13 118.08 L413.55 118.23 L413.96 118.38 L414.37 118.51 L414.78 118.64 L415.19 118.75 L415.60 118.86 L416.01 118.96 L416.42 119.05 L416.83 119.13 L417.24 119.21 L417.65 119.28 L418.07 119.35 L418.48 119.41 L418.89 119.46 L419.30 119.51 L419.71 119.56 L420.12 119.60 L420.53 119.64 L420.94 119.67 L421.35 119.70 L421.76 119.73 L422.18 119.76 L422.59 119.78 L423.00 119.81 L423.41 119.82 L423.82 119.84 L424.23 119.86 L424.64 119.87 L425.05 119.89 L425.46 119.90 L425.88 119.91 L426.29 119.92 L426.70 119.93 L427.11 119.94 L427.52 119.94 L427.93 119.95 L428.34 119.95 L428.75 119.96 L429.16 119.96 L429.57 119.97 L429.99 119.97 L430.40 119.98 L430.81 119.98 L431.22 119.98 L431.63 119.98 L431.80 119.98" stroke="#ff1a1a" stroke-dasharray="6 5.5"/>
<path d="M366.00 120.00 L367.20 119.98 L367.37 119.98 L367.53 119.98 L367.69 119.98 L367.86 119.98 L368.03 119.97 L368.19 119.97 L368.36 119.96 L368.52 119.96 L368.69 119.95 L368.85 119.95 L369.01 119.94 L369.18 119.94 L369.35 119.93 L369.51 119.92 L369.68 119.91 L369.84 119.90 L370.00 119.89 L370.17 119.87 L370.34 119.86 L370.50 119.84 L370.67 119.82 L370.83 119.81 L371.00 119.78 L371.16 119.76 L371.32 119.73 L371.49 119.70 L371.66 119.67 L371.82 119.64 L371.99 119.60 L372.15 119.56 L372.31 119.51 L372.48 119.46 L372.64 119.41 L372.81 119.35 L372.98 119.28 L373.14 119.21 L373.31 119.13 L373.47 119.05 L373.63 118.96 L373.80 118.86 L373.97 118.75 L374.13 118.64 L374.30 118.51 L374.46 118.38 L374.62 118.23 L374.79 118.08 L374.95 117.91 L375.12 117.73 L375.29 117.53 L375.45 117.32 L375.62 117.10 L375.78 116.86 L375.94 116.60 L376.11 116.32 L376.28 116.03 L376.44 115.72 L376.61 115.38 L376.77 115.03 L376.94 114.65 L377.10 114.25 L377.26 113.82 L377.43 113.37 L377.60 112.89 L377.76 112.38 L377.93 111.85 L378.09 111.28 L378.25 110.68 L378.42 110.06 L378.59 109.39 L378.75 108.70 L378.92 107.97 L379.08 107.20 L379.25 106.40 L379.41 105.56 L379.57 104.69 L379.74 103.77 L379.91 102.82 L380.07 101.82 L380.24 100.79 L380.40 99.72 L380.56 98.60 L380.73 97.44 L380.90 96.24 L381.06 95.01 L381.23 93.73 L381.39 92.40 L381.56 91.04 L381.72 89.64 L381.88 88.20 L382.05 86.72 L382.22 85.21 L382.38 83.65 L382.55 82.07 L382.71 80.45 L382.88 78.79 L383.04 77.11 L383.20 75.40 L383.37 73.66 L383.54 71.89 L383.70 70.11 L383.87 68.30 L384.03 66.48 L384.19 64.64 L384.36 62.79 L384.53 60.94 L384.69 59.07 L384.86 57.21 L385.02 55.35 L385.19 53.49 L385.35 51.63 L385.51 49.80 L385.68 47.97 L385.85 46.17 L386.01 44.38 L386.18 42.63 L386.34 40.90 L386.50 39.21 L386.67 37.56 L386.84 35.95 L387.00 34.38 L387.17 32.87 L387.33 31.41 L387.50 30.00 L387.66 28.65 L387.82 27.37 L387.99 26.15 L388.16 25.01 L388.32 23.93 L388.49 22.93 L388.65 22.01 L388.81 21.17 L388.98 20.41 L389.15 19.74 L389.31 19.15 L389.48 18.65 L389.64 18.24 L389.81 17.91 L389.97 17.68 L390.13 17.55 L390.30 17.50 L390.47 17.55 L390.63 17.68 L390.80 17.91 L390.96 18.24 L391.12 18.65 L391.29 19.15 L391.45 19.74 L391.62 20.41 L391.79 21.17 L391.95 22.01 L392.12 22.93 L392.28 23.93 L392.44 25.01 L392.61 26.15 L392.78 27.37 L392.94 28.65 L393.11 30.00 L393.27 31.41 L393.44 32.87 L393.60 34.38 L393.76 35.95 L393.93 37.56 L394.10 39.21 L394.26 40.90 L394.43 42.63 L394.59 44.38 L394.75 46.17 L394.92 47.97 L395.09 49.80 L395.25 51.63 L395.42 53.49 L395.58 55.35 L395.75 57.21 L395.91 59.07 L396.07 60.94 L396.24 62.79 L396.41 64.64 L396.57 66.48 L396.74 68.30 L396.90 70.11 L397.06 71.89 L397.23 73.66 L397.40 75.40 L397.56 77.11 L397.73 78.79 L397.89 80.45 L398.06 82.07 L398.22 83.65 L398.38 85.21 L398.55 86.72 L398.72 88.20 L398.88 89.64 L399.05 91.04 L399.21 92.40 L399.38 93.73 L399.54 95.01 L399.70 96.24 L399.87 97.44 L400.04 98.60 L400.20 99.72 L400.37 100.79 L400.53 101.82 L400.69 102.82 L400.86 103.77 L401.03 104.69 L401.19 105.56 L401.36 106.40 L401.52 107.20 L401.69 107.97 L401.85 108.70 L402.01 109.39 L402.18 110.06 L402.35 110.68 L402.51 111.28 L402.68 111.85 L402.84 112.38 L403.00 112.89 L403.17 113.37 L403.34 113.82 L403.50 114.25 L403.67 114.65 L403.83 115.03 L404.00 115.38 L404.16 115.72 L404.32 116.03 L404.49 116.32 L404.66 116.60 L404.82 116.86 L404.99 117.10 L405.15 117.32 L405.31 117.53 L405.48 117.73 L405.65 117.91 L405.81 118.08 L405.98 118.23 L406.14 118.38 L406.31 118.51 L406.47 118.64 L406.63 118.75 L406.80 118.86 L406.97 118.96 L407.13 119.05 L407.30 119.13 L407.46 119.21 L407.62 119.28 L407.79 119.35 L407.96 119.41 L408.12 119.46 L408.29 119.51 L408.45 119.56 L408.62 119.60 L408.78 119.64 L408.94 119.67 L409.11 119.70 L409.28 119.73 L409.44 119.76 L409.61 119.78 L409.77 119.81 L409.94 119.82 L410.10 119.84 L410.26 119.86 L410.43 119.87 L410.60 119.89 L410.76 119.90 L410.93 119.91 L411.09 119.92 L411.25 119.93 L411.42 119.94 L411.59 119.94 L411.75 119.95 L411.92 119.95 L412.08 119.96 L412.25 119.96 L412.41 119.97 L412.57 119.97 L412.74 119.98 L412.91 119.98 L413.07 119.98 L413.24 119.98 L413.40 119.98 L415.70 120.00" stroke="#000"/>
</g>
<g clip-path="url(#clip03)" fill="none" stroke-width="1.5" stroke-linejoin="round">
<path d="M437.30 120.00 L460.16 119.98 L460.63 119.98 L461.10 119.98 L461.57 119.98 L462.04 119.98 L462.52 119.97 L462.99 119.97 L463.46 119.96 L463.93 119.96 L464.40 119.95 L464.87 119.95 L465.34 119.94 L465.81 119.94 L466.28 119.93 L466.75 119.92 L467.23 119.91 L467.70 119.90 L468.17 119.89 L468.64 119.87 L469.11 119.86 L469.58 119.84 L470.05 119.82 L470.52 119.81 L470.99 119.78 L471.46 119.76 L471.94 119.73 L472.41 119.70 L472.88 119.67 L473.35 119.64 L473.82 119.60 L474.29 119.56 L474.76 119.51 L475.23 119.46 L475.70 119.41 L476.17 119.35 L476.65 119.28 L477.12 119.21 L477.59 119.13 L478.06 119.05 L478.53 118.96 L479.00 118.86 L479.47 118.75 L479.94 118.64 L480.41 118.51 L480.88 118.38 L481.36 118.23 L481.83 118.08 L482.30 117.91 L482.77 117.73 L483.25 117.53 L483.78 117.32 L484.35 117.10 L484.94 116.86 L485.55 116.60 L486.16 116.32 L486.76 116.03 L487.35 115.72 L487.91 115.38 L488.44 115.03 L488.92 114.65 L489.43 114.25 L490.01 113.82 L490.64 113.37 L491.30 112.89 L491.95 112.38 L492.58 111.85 L493.17 111.28 L493.68 110.68 L494.16 110.06 L494.72 109.39 L495.35 108.70 L496.01 107.97 L496.67 107.20 L497.31 106.40 L497.90 105.56 L498.40 104.69 L498.86 103.77 L499.38 102.82 L499.95 101.82 L500.53 100.79 L501.10 99.72 L501.63 98.60 L502.09 97.44 L502.50 96.24 L502.93 95.01 L503.35 93.73 L503.78 92.40 L504.21 91.04 L504.64 89.64 L505.07 88.20 L505.50 86.72 L505.92 85.21 L506.35 83.65 L506.77 82.07 L507.19 80.45 L507.60 78.79 L508.02 77.11 L508.44 75.40 L508.87 73.66 L509.30 71.89 L509.74 70.11 L510.18 68.30 L510.63 66.48 L511.07 64.64 L511.52 62.79 L511.96 60.94 L512.40 59.07 L512.83 57.21 L513.26 55.35 L513.69 53.49 L514.11 51.63 L514.52 49.80 L514.93 47.97 L515.33 46.17 L515.72 44.38 L516.10 42.63 L516.47 40.90 L516.84 39.21 L517.21 37.56 L517.59 35.95 L517.96 34.38 L518.34 32.87 L518.72 31.41 L519.11 30.00 L519.50 28.65 L519.90 27.37 L520.31 26.15 L520.72 25.01 L521.13 23.93 L521.55 22.93 L521.96 22.01 L522.37 21.17 L522.79 20.41 L523.20 19.74 L523.62 19.15 L524.03 18.65 L524.44 18.24 L524.86 17.91 L525.27 17.68 L525.69 17.55 L526.10 17.50 L526.46 17.55 L526.83 17.68 L527.19 17.91 L527.55 18.24 L527.92 18.65 L528.28 19.15 L528.64 19.74 L529.00 20.41 L529.37 21.17 L529.73 22.01 L530.09 22.93 L530.46 23.93 L530.82 25.01 L531.18 26.15 L531.55 27.37 L531.91 28.65 L532.27 30.00 L532.63 31.41 L533.00 32.87 L533.36 34.38 L533.72 35.95 L534.09 37.56 L534.45 39.21 L534.81 40.90 L535.18 42.63 L535.54 44.38 L535.90 46.17 L536.26 47.97 L536.63 49.80 L536.99 51.63 L537.35 53.49 L537.72 55.35 L538.08 57.21 L538.44 59.07 L538.81 60.94 L539.17 62.79 L539.53 64.64 L539.89 66.48 L540.26 68.30 L540.62 70.11 L540.98 71.89 L541.35 73.66 L541.71 75.40 L542.07 77.11 L542.44 78.79 L542.80 80.45 L543.16 82.07 L543.52 83.65 L543.89 85.21 L544.25 86.72 L544.61 88.20 L544.98 89.64 L545.34 91.04 L545.70 92.40 L546.07 93.73 L546.43 95.01 L546.79 96.24 L547.15 97.44 L547.52 98.60 L547.88 99.72 L548.24 100.79 L548.61 101.82 L548.97 102.82 L549.33 103.77 L549.70 104.69 L550.06 105.56 L550.42 106.40 L550.78 107.20 L551.15 107.97 L551.51 108.70 L551.87 109.39 L552.24 110.06 L552.60 110.68 L552.96 111.28 L553.33 111.85 L553.69 112.38 L554.05 112.89 L554.41 113.37 L554.78 113.82 L555.14 114.25 L555.50 114.65 L555.87 115.03 L556.23 115.38 L556.59 115.72 L556.96 116.03 L557.32 116.32 L557.68 116.60 L558.04 116.86 L558.41 117.10 L558.77 117.32 L559.13 117.53 L559.50 117.73 L559.86 117.91 L560.22 118.08 L560.59 118.23 L560.95 118.38 L561.31 118.51 L561.67 118.64 L562.04 118.75 L562.40 118.86 L562.76 118.96 L563.13 119.05 L563.49 119.13 L563.85 119.21 L564.22 119.28 L564.58 119.35 L564.94 119.41 L565.30 119.46 L565.67 119.51 L566.03 119.56 L566.39 119.60 L566.76 119.64 L567.12 119.67 L567.48 119.70 L567.85 119.73 L568.21 119.76 L568.57 119.78 L568.93 119.81 L569.30 119.82 L569.66 119.84 L570.02 119.86 L570.39 119.87 L570.75 119.89 L571.11 119.90 L571.48 119.91 L571.84 119.92 L572.20 119.93 L572.56 119.94 L572.93 119.94 L573.29 119.95 L573.65 119.95 L574.02 119.96 L574.38 119.96 L574.74 119.97 L575.11 119.97 L575.47 119.98 L575.83 119.98 L576.19 119.98 L576.50 119.98" stroke="#1a1aff" stroke-dasharray="6 2.8 1.5 2.8"/>
<path d="M442.90 120.00 L447.70 119.98 L448.13 119.98 L448.57 119.98 L449.01 119.98 L449.44 119.98 L449.88 119.97 L450.31 119.97 L450.75 119.96 L451.18 119.96 L451.62 119.95 L452.05 119.95 L452.49 119.94 L452.92 119.94 L453.36 119.93 L453.79 119.92 L454.23 119.91 L454.66 119.90 L455.10 119.89 L455.53 119.87 L455.97 119.86 L456.40 119.84 L456.84 119.82 L457.27 119.81 L457.71 119.78 L458.16 119.76 L458.67 119.73 L459.25 119.70 L459.87 119.67 L460.54 119.64 L461.24 119.60 L461.96 119.56 L462.70 119.51 L463.45 119.46 L464.20 119.41 L464.94 119.35 L465.66 119.28 L466.36 119.21 L467.04 119.13 L467.68 119.05 L468.28 118.96 L468.84 118.86 L469.34 118.75 L469.79 118.64 L470.19 118.51 L470.62 118.38 L471.07 118.23 L471.54 118.08 L472.02 117.91 L472.50 117.73 L472.99 117.53 L473.47 117.32 L473.95 117.10 L474.41 116.86 L474.86 116.60 L475.30 116.32 L475.70 116.03 L476.09 115.72 L476.45 115.38 L476.80 115.03 L477.14 114.65 L477.48 114.25 L477.81 113.82 L478.14 113.37 L478.48 112.89 L478.82 112.38 L479.17 111.85 L479.53 111.28 L479.91 110.68 L480.30 110.06 L480.67 109.39 L481.03 108.70 L481.39 107.97 L481.73 107.20 L482.08 106.40 L482.42 105.56 L482.77 104.69 L483.13 103.77 L483.49 102.82 L483.87 101.82 L484.26 100.79 L484.69 99.72 L485.17 98.60 L485.67 97.44 L486.20 96.24 L486.72 95.01 L487.23 93.73 L487.71 92.40 L488.16 91.04 L488.56 89.64 L488.99 88.20 L489.47 86.72 L489.97 85.21 L490.47 83.65 L490.96 82.07 L491.43 80.45 L491.85 78.79 L492.23 77.11 L492.58 75.40 L492.93 73.66 L493.26 71.89 L493.58 70.11 L493.89 68.30 L494.21 66.48 L494.52 64.64 L494.84 62.79 L495.15 60.94 L495.48 59.07 L495.81 57.21 L496.15 55.35 L496.49 53.49 L496.85 51.63 L497.22 49.80 L497.60 47.97 L497.99 46.17 L498.38 44.38 L498.77 42.63 L499.15 40.90 L499.53 39.21 L499.92 37.56 L500.30 35.95 L500.68 34.38 L501.07 32.87 L501.45 31.41 L501.84 30.00 L502.23 28.65 L502.62 27.37 L503.02 26.15 L503.41 25.01 L503.81 23.93 L504.21 22.93 L504.61 22.01 L505.01 21.17 L505.41 20.41 L505.81 19.74 L506.21 19.15 L506.61 18.65 L507.00 18.24 L507.40 17.91 L507.80 17.68 L508.20 17.55 L508.60 17.50 L508.90 17.55 L509.21 17.68 L509.51 17.91 L509.81 18.24 L510.12 18.65 L510.42 19.15 L510.72 19.74 L511.02 20.41 L511.33 21.17 L511.63 22.01 L511.93 22.93 L512.24 23.93 L512.54 25.01 L512.84 26.15 L513.14 27.37 L513.45 28.65 L513.75 30.00 L514.05 31.41 L514.36 32.87 L514.66 34.38 L514.96 35.95 L515.27 37.56 L515.57 39.21 L515.87 40.90 L516.18 42.63 L516.48 44.38 L516.78 46.17 L517.08 47.97 L517.39 49.80 L517.69 51.63 L517.99 53.49 L518.30 55.35 L518.60 57.21 L518.90 59.07 L519.21 60.94 L519.51 62.79 L519.81 64.64 L520.11 66.48 L520.42 68.30 L520.72 70.11 L521.02 71.89 L521.33 73.66 L521.63 75.40 L521.93 77.11 L522.24 78.79 L522.54 80.45 L522.84 82.07 L523.14 83.65 L523.45 85.21 L523.75 86.72 L524.05 88.20 L524.36 89.64 L524.66 91.04 L524.96 92.40 L525.26 93.73 L525.57 95.01 L525.87 96.24 L526.17 97.44 L526.48 98.60 L526.78 99.72 L527.08 100.79 L527.39 101.82 L527.69 102.82 L527.99 103.77 L528.30 104.69 L528.60 105.56 L528.90 106.40 L529.20 107.20 L529.51 107.97 L529.81 108.70 L530.11 109.39 L530.42 110.06 L530.72 110.68 L531.02 111.28 L531.33 111.85 L531.63 112.38 L531.93 112.89 L532.23 113.37 L532.54 113.82 L532.84 114.25 L533.14 114.65 L533.45 115.03 L533.75 115.38 L534.05 115.72 L534.36 116.03 L534.66 116.32 L534.96 116.60 L535.26 116.86 L535.57 117.10 L535.87 117.32 L536.17 117.53 L536.48 117.73 L536.78 117.91 L537.08 118.08 L537.38 118.23 L537.69 118.38 L537.99 118.51 L538.29 118.64 L538.60 118.75 L538.90 118.86 L539.20 118.96 L539.51 119.05 L539.81 119.13 L540.11 119.21 L540.41 119.28 L540.72 119.35 L541.02 119.41 L541.32 119.46 L541.63 119.51 L541.93 119.56 L542.23 119.60 L542.54 119.64 L542.84 119.67 L543.14 119.70 L543.45 119.73 L543.75 119.76 L544.05 119.78 L544.35 119.81 L544.66 119.82 L544.96 119.84 L545.26 119.86 L545.57 119.87 L545.87 119.89 L546.17 119.90 L546.48 119.91 L546.50 119.91" stroke="#ff1a1a" stroke-dasharray="6 5.5"/>
<path d="M477.40 120.00 L479.93 119.98 L480.20 119.98 L480.48 119.98 L480.75 119.98 L481.02 119.98 L481.30 119.97 L481.57 119.97 L481.85 119.96 L482.12 119.96 L482.39 119.95 L482.67 119.95 L482.94 119.94 L483.22 119.94 L483.49 119.93 L483.76 119.92 L484.04 119.91 L484.31 119.90 L484.59 119.89 L484.86 119.87 L485.13 119.86 L485.41 119.84 L485.68 119.82 L485.95 119.81 L486.23 119.78 L486.50 119.76 L486.77 119.73 L487.05 119.70 L487.32 119.67 L487.59 119.64 L487.86 119.60 L488.14 119.56 L488.41 119.51 L488.68 119.46 L488.96 119.41 L489.23 119.35 L489.50 119.28 L489.77 119.21 L490.05 119.13 L490.32 119.05 L490.59 118.96 L490.86 118.86 L491.14 118.75 L491.41 118.64 L491.68 118.51 L491.95 118.38 L492.22 118.23 L492.49 118.08 L492.77 117.91 L493.04 117.73 L493.31 117.53 L493.58 117.32 L493.85 117.10 L494.12 116.86 L494.40 116.60 L494.67 116.32 L494.94 116.03 L495.21 115.72 L495.48 115.38 L495.75 115.03 L496.02 114.65 L496.29 114.25 L496.56 113.82 L496.83 113.37 L497.10 112.89 L497.37 112.38 L497.64 111.85 L497.91 111.28 L498.18 110.68 L498.45 110.06 L498.72 109.39 L498.99 108.70 L499.26 107.97 L499.53 107.20 L499.80 106.40 L500.07 105.56 L500.34 104.69 L500.61 103.77 L500.88 102.82 L501.15 101.82 L501.42 100.79 L501.68 99.72 L501.95 98.60 L502.22 97.44 L502.49 96.24 L502.76 95.01 L503.03 93.73 L503.29 92.40 L503.56 91.04 L503.83 89.64 L504.10 88.20 L504.37 86.72 L504.63 85.21 L504.90 83.65 L505.17 82.07 L505.43 80.45 L505.70 78.79 L505.97 77.11 L506.23 75.40 L506.50 73.66 L506.77 71.89 L507.03 70.11 L507.30 68.30 L507.56 66.48 L507.83 64.64 L508.09 62.79 L508.36 60.94 L508.62 59.07 L508.89 57.21 L509.15 55.35 L509.42 53.49 L509.68 51.63 L509.94 49.80 L510.21 47.97 L510.47 46.17 L510.73 44.38 L511.00 42.63 L511.26 40.90 L511.52 39.21 L511.78 37.56 L512.05 35.95 L512.31 34.38 L512.57 32.87 L512.83 31.41 L513.09 30.00 L513.35 28.65 L513.61 27.37 L513.87 26.15 L514.13 25.01 L514.38 23.93 L514.64 22.93 L514.90 22.01 L515.15 21.17 L515.41 20.41 L515.66 19.74 L515.92 19.15 L516.17 18.65 L516.42 18.24 L516.67 17.91 L516.92 17.68 L517.16 17.55 L517.40 17.50 L517.61 17.55 L517.82 17.68 L518.03 17.91 L518.24 18.24 L518.45 18.65 L518.66 19.15 L518.87 19.74 L519.08 20.41 L519.29 21.17 L519.50 22.01 L519.71 22.93 L519.92 23.93 L520.13 25.01 L520.34 26.15 L520.55 27.37 L520.76 28.65 L520.97 30.00 L521.18 31.41 L521.39 32.87 L521.60 34.38 L521.81 35.95 L522.02 37.56 L522.23 39.21 L522.44 40.90 L522.65 42.63 L522.86 44.38 L523.07 46.17 L523.28 47.97 L523.49 49.80 L523.70 51.63 L523.91 53.49 L524.12 55.35 L524.33 57.21 L524.54 59.07 L524.75 60.94 L524.96 62.79 L525.17 64.64 L525.38 66.48 L525.59 68.30 L525.80 70.11 L526.01 71.89 L526.22 73.66 L526.43 75.40 L526.64 77.11 L526.85 78.79 L527.06 80.45 L527.27 82.07 L527.48 83.65 L527.69 85.21 L527.90 86.72 L528.11 88.20 L528.32 89.64 L528.53 91.04 L528.74 92.40 L528.95 93.73 L529.16 95.01 L529.37 96.24 L529.58 97.44 L529.79 98.60 L530.00 99.72 L530.21 100.79 L530.42 101.82 L530.63 102.82 L530.84 103.77 L531.05 104.69 L531.26 105.56 L531.47 106.40 L531.68 107.20 L531.89 107.97 L532.10 108.70 L532.31 109.39 L532.52 110.06 L532.73 110.68 L532.94 111.28 L533.15 111.85 L533.36 112.38 L533.57 112.89 L533.78 113.37 L533.99 113.82 L534.20 114.25 L534.41 114.65 L534.62 115.03 L534.83 115.38 L535.04 115.72 L535.25 116.03 L535.46 116.32 L535.67 116.60 L535.88 116.86 L536.09 117.10 L536.30 117.32 L536.51 117.53 L536.72 117.73 L536.93 117.91 L537.14 118.08 L537.35 118.23 L537.56 118.38 L537.77 118.51 L537.98 118.64 L538.19 118.75 L538.40 118.86 L538.61 118.96 L538.82 119.05 L539.03 119.13 L539.24 119.21 L539.45 119.28 L539.66 119.35 L539.87 119.41 L540.08 119.46 L540.29 119.51 L540.50 119.56 L540.71 119.60 L540.92 119.64 L541.13 119.67 L541.34 119.70 L541.55 119.73 L541.76 119.76 L541.97 119.78 L542.18 119.81 L542.39 119.82 L542.60 119.84 L542.81 119.86 L543.02 119.87 L543.23 119.89 L543.44 119.90 L543.65 119.91 L543.86 119.92 L544.07 119.93 L544.28 119.94 L544.49 119.94 L544.70 119.95 L544.91 119.95 L545.12 119.96 L545.30 119.96" stroke="#000"/>
</g>
<g clip-path="url(#clip10)" fill="none" stroke-width="1.5" stroke-linejoin="round">
<path d="M60.20 256.45 L60.60 256.37 L61.08 256.26 L61.56 256.15 L62.04 256.02 L62.52 255.89 L63.00 255.74 L63.48 255.59 L63.96 255.42 L64.44 255.24 L64.92 255.04 L65.40 254.84 L65.88 254.61 L66.36 254.37 L66.84 254.12 L67.32 253.84 L67.80 253.55 L68.28 253.24 L68.76 252.91 L69.24 252.55 L69.72 252.17 L70.20 251.77 L70.68 251.35 L71.16 250.90 L71.64 250.42 L72.12 249.92 L72.60 249.38 L73.08 248.82 L73.56 248.23 L74.04 247.60 L74.52 246.95 L75.00 246.25 L75.48 245.53 L75.96 244.77 L76.44 243.97 L76.92 243.14 L77.40 242.26 L77.88 241.35 L78.36 240.40 L78.84 239.41 L79.32 238.38 L79.80 237.31 L80.28 236.20 L80.76 235.05 L81.24 233.86 L81.72 232.63 L82.20 231.35 L82.68 230.04 L83.16 228.68 L83.64 227.29 L84.12 225.86 L84.60 224.39 L85.08 222.88 L85.56 221.33 L86.04 219.75 L86.52 218.14 L87.00 216.49 L87.48 214.82 L87.96 213.11 L88.44 211.38 L88.92 209.63 L89.40 207.85 L89.88 206.05 L90.36 204.24 L90.84 202.41 L91.32 200.57 L91.80 198.72 L92.28 196.87 L92.76 195.02 L93.24 193.16 L93.72 191.31 L94.20 189.47 L94.68 187.64 L95.16 185.82 L95.64 184.03 L96.12 182.25 L96.60 180.51 L97.08 178.79 L97.56 177.11 L98.04 175.46 L98.52 173.86 L99.00 172.30 L99.48 170.79 L99.96 169.34 L100.44 167.94 L100.92 166.60 L101.40 165.32 L101.88 164.11 L102.36 162.97 L102.84 161.90 L103.32 160.91 L103.80 159.99 L104.28 159.15 L104.76 158.40 L105.24 157.72 L105.72 157.14 L106.20 156.64 L106.68 156.23 L107.16 155.91 L107.64 155.68 L108.12 155.55 L108.60 155.50 L109.15 155.55 L109.69 155.68 L110.24 155.91 L110.78 156.23 L111.33 156.64 L111.88 157.14 L112.42 157.72 L112.97 158.40 L113.51 159.15 L114.06 159.99 L114.61 160.91 L115.15 161.90 L115.70 162.97 L116.24 164.11 L116.79 165.32 L117.34 166.60 L117.88 167.94 L118.43 169.34 L118.97 170.79 L119.52 172.30 L120.07 173.86 L120.61 175.46 L121.16 177.11 L121.70 178.79 L122.25 180.51 L122.80 182.25 L123.34 184.03 L123.89 185.82 L124.44 187.64 L124.99 189.47 L125.54 191.31 L126.09 193.16 L126.65 195.02 L127.20 196.87 L127.76 198.72 L128.31 200.57 L128.87 202.41 L129.43 204.24 L129.98 206.05 L130.54 207.85 L131.10 209.63 L131.65 211.38 L132.20 213.11 L132.76 214.82 L133.31 216.49 L133.92 218.14 L134.57 219.75 L135.25 221.33 L135.95 222.88 L136.64 224.39 L137.31 225.86 L137.92 227.29 L138.51 228.68 L139.13 230.04 L139.81 231.35 L140.51 232.63 L141.22 233.86 L141.94 235.05 L142.64 236.20 L143.31 237.31 L143.92 238.38 L144.51 239.41 L145.11 240.40 L145.73 241.35 L146.35 242.26 L146.99 243.14 L147.62 243.97 L148.26 244.77 L148.89 245.53 L149.51 246.25 L150.13 246.95 L150.72 247.60 L151.32 248.23 L151.94 248.82 L152.59 249.38 L153.26 249.92 L153.93 250.42 L154.61 250.90 L155.29 251.35 L155.97 251.77 L156.63 252.17 L157.28 252.55 L157.90 252.91 L158.50 253.24 L159.11 253.55 L159.74 253.84 L160.37 254.12 L161.02 254.37 L161.67 254.61 L162.33 254.84 L162.99 255.04 L163.64 255.24 L164.30 255.42 L164.94 255.59 L165.58 255.74 L166.20 255.89 L166.80 256.02 L167.38 256.15 L167.95 256.26 L168.51 256.37 L169.05 256.46 L169.58 256.56 L170.10 256.64 L170.62 256.72 L171.13 256.79 L171.64 256.85 L172.15 256.91 L172.66 256.96 L173.18 257.01 L173.71 257.06 L174.25 257.10 L174.81 257.14 L175.38 257.17 L175.97 257.21 L176.56 257.23 L177.16 257.26 L177.75 257.28 L178.34 257.31 L178.93 257.33 L179.52 257.34 L180.11 257.36 L180.70 257.37 L181.29 257.39 L181.88 257.40 L182.47 257.41 L183.07 257.42 L183.66 257.43 L184.25 257.44 L184.84 257.44 L185.43 257.45 L186.02 257.45 L186.61 257.46 L187.20 257.46 L187.79 257.47 L188.38 257.47 L188.98 257.48 L189.50 257.48" stroke="#ff1a1a" stroke-dasharray="6 5.5"/>
<path d="M52.40 257.19 L57.90 256.51 L63.40 254.74 L68.90 250.69 L74.40 242.77 L79.90 229.48 L85.40 210.70 L90.90 188.79 L96.40 168.85 L101.90 155.50 L106.70 155.50 L113.10 166.18 L119.50 184.62 L125.90 206.63 L132.30 227.35 L138.70 242.79 L145.10 250.68 L151.50 254.28 L157.90 256.07 L164.30 256.90 L170.70 257.31 L177.10 257.44 L183.50 257.48" stroke="#000"/>
</g>
<g clip-path="url(#clip11)" fill="none" stroke-width="1.5" stroke-linejoin="round">
<path d="M190.00 257.33 L190.14 257.33 L190.61 257.31 L191.09 257.28 L191.57 257.26 L192.05 257.23 L192.52 257.21 L193.00 257.17 L193.48 257.14 L193.95 257.10 L194.43 257.06 L194.91 257.01 L195.38 256.96 L195.86 256.91 L196.34 256.85 L196.81 256.79 L197.29 256.72 L197.77 256.64 L198.25 256.56 L198.72 256.46 L199.20 256.37 L199.68 256.26 L200.15 256.15 L200.63 256.02 L201.11 255.89 L201.59 255.74 L202.06 255.59 L202.54 255.42 L203.02 255.24 L203.49 255.04 L203.97 254.84 L204.45 254.61 L204.92 254.37 L205.40 254.12 L205.88 253.84 L206.36 253.55 L206.83 253.24 L207.31 252.91 L207.79 252.55 L208.26 252.17 L208.74 251.77 L209.22 251.35 L209.69 250.90 L210.17 250.42 L210.65 249.92 L211.12 249.38 L211.60 248.82 L212.08 248.23 L212.56 247.60 L213.03 246.95 L213.51 246.25 L213.99 245.53 L214.46 244.77 L214.94 243.97 L215.42 243.14 L215.90 242.26 L216.37 241.35 L216.85 240.40 L217.33 239.41 L217.80 238.38 L218.28 237.31 L218.76 236.20 L219.23 235.05 L219.71 233.86 L220.19 232.63 L220.67 231.35 L221.14 230.04 L221.62 228.68 L222.10 227.29 L222.57 225.86 L223.05 224.39 L223.53 222.88 L224.00 221.33 L224.48 219.75 L224.96 218.14 L225.44 216.49 L225.91 214.82 L226.39 213.11 L226.87 211.38 L227.34 209.63 L227.82 207.85 L228.30 206.05 L228.77 204.24 L229.25 202.41 L229.73 200.57 L230.21 198.72 L230.68 196.87 L231.16 195.02 L231.64 193.16 L232.11 191.31 L232.59 189.47 L233.07 187.64 L233.54 185.82 L234.02 184.03 L234.50 182.25 L234.97 180.51 L235.45 178.79 L235.93 177.11 L236.41 175.46 L236.88 173.86 L237.36 172.30 L237.84 170.79 L238.31 169.34 L238.79 167.94 L239.27 166.60 L239.75 165.32 L240.22 164.11 L240.70 162.97 L241.18 161.90 L241.65 160.91 L242.13 159.99 L242.61 159.15 L243.08 158.40 L243.56 157.72 L244.04 157.14 L244.52 156.64 L244.99 156.23 L245.47 155.91 L245.95 155.68 L246.42 155.55 L246.90 155.50 L247.24 155.55 L247.63 155.68 L248.03 155.91 L248.44 156.23 L248.85 156.64 L249.28 157.14 L249.71 157.72 L250.15 158.40 L250.59 159.15 L251.04 159.99 L251.48 160.91 L251.94 161.90 L252.39 162.97 L252.85 164.11 L253.31 165.32 L253.77 166.60 L254.24 167.94 L254.71 169.34 L255.18 170.79 L255.65 172.30 L256.12 173.86 L256.60 175.46 L257.08 177.11 L257.56 178.79 L258.04 180.51 L258.52 182.25 L259.00 184.03 L259.49 185.82 L259.98 187.64 L260.46 189.47 L260.95 191.31 L261.44 193.16 L261.94 195.02 L262.43 196.87 L262.92 198.72 L263.42 200.57 L263.92 202.41 L264.41 204.24 L264.91 206.05 L265.41 207.85 L265.91 209.63 L266.41 211.38 L266.92 213.11 L267.42 214.82 L267.93 216.49 L268.43 218.14 L268.94 219.75 L269.44 221.33 L269.95 222.88 L270.46 224.39 L270.97 225.86 L271.48 227.29 L271.99 228.68 L272.51 230.04 L273.02 231.35 L273.53 232.63 L274.05 233.86 L274.56 235.05 L275.08 236.20 L275.60 237.31 L276.11 238.38 L276.63 239.41 L277.15 240.40 L277.67 241.35 L278.19 242.26 L278.71 243.14 L279.23 243.97 L279.75 244.77 L280.28 245.53 L280.80 246.25 L281.32 246.95 L281.85 247.60 L282.37 248.23 L282.90 248.82 L283.42 249.38 L283.95 249.92 L284.48 250.42 L285.01 250.90 L285.53 251.35 L286.06 251.77 L286.59 252.17 L287.12 252.55 L287.65 252.91 L288.18 253.24 L288.72 253.55 L289.25 253.84 L289.78 254.12 L290.31 254.37 L290.85 254.61 L291.38 254.84 L291.92 255.04 L292.45 255.24 L292.99 255.42 L293.52 255.59 L294.06 255.74 L294.60 255.89 L295.13 256.02 L295.67 256.15 L296.21 256.26 L296.75 256.37 L297.29 256.46 L297.83 256.56 L298.37 256.64 L298.91 256.72 L299.45 256.79 L299.99 256.85 L300.53 256.91 L301.07 256.96 L301.62 257.01 L302.16 257.06 L302.70 257.10 L303.25 257.14 L303.79 257.17 L304.33 257.21 L304.88 257.23 L305.42 257.26 L305.97 257.28 L306.52 257.31 L307.06 257.33 L307.61 257.34 L308.16 257.36 L308.70 257.37 L309.00 257.38" stroke="#1a1aff" stroke-dasharray="6 2.8 1.5 2.8"/>
<path d="M239.00 257.43 L239.10 257.43 L239.34 257.42 L239.57 257.41 L239.81 257.40 L240.05 257.39 L240.29 257.37 L240.52 257.36 L240.76 257.34 L241.00 257.33 L241.23 257.31 L241.47 257.28 L241.72 257.26 L242.02 257.23 L242.36 257.21 L242.74 257.17 L243.14 257.14 L243.57 257.10 L244.02 257.06 L244.48 257.01 L244.94 256.96 L245.40 256.91 L245.86 256.85 L246.30 256.79 L246.72 256.72 L247.12 256.64 L247.49 256.56 L247.83 256.46 L248.14 256.37 L248.40 256.26 L248.62 256.15 L248.82 256.02 L249.02 255.89 L249.21 255.74 L249.40 255.59 L249.59 255.42 L249.77 255.24 L249.95 255.04 L250.13 254.84 L250.31 254.61 L250.49 254.37 L250.67 254.12 L250.86 253.84 L251.04 253.55 L251.23 253.24 L251.43 252.91 L251.63 252.55 L251.83 252.17 L252.04 251.77 L252.25 251.35 L252.45 250.90 L252.64 250.42 L252.82 249.92 L253.00 249.38 L253.17 248.82 L253.34 248.23 L253.51 247.60 L253.68 246.95 L253.85 246.25 L254.03 245.53 L254.21 244.77 L254.39 243.97 L254.58 243.14 L254.78 242.26 L254.99 241.35 L255.21 240.40 L255.42 239.41 L255.60 238.38 L255.78 237.31 L255.94 236.20 L256.09 235.05 L256.24 233.86 L256.38 232.63 L256.52 231.35 L256.67 230.04 L256.82 228.68 L256.98 227.29 L257.15 225.86 L257.32 224.39 L257.51 222.88 L257.71 221.33 L257.93 219.75 L258.16 218.14 L258.41 216.49 L258.67 214.82 L258.94 213.11 L259.22 211.38 L259.51 209.63 L259.80 207.85 L260.08 206.05 L260.37 204.24 L260.64 202.41 L260.92 200.57 L261.18 198.72 L261.43 196.87 L261.67 195.02 L261.90 193.16 L262.13 191.31 L262.37 189.47 L262.60 187.64 L262.83 185.82 L263.07 184.03 L263.30 182.25 L263.53 180.51 L263.77 178.79 L264.00 177.11 L264.23 175.46 L264.46 173.86 L264.69 172.30 L264.92 170.79 L265.15 169.34 L265.37 167.94 L265.60 166.60 L265.82 165.32 L266.05 164.11 L266.27 162.97 L266.50 161.90 L266.72 160.91 L266.95 159.99 L267.18 159.15 L267.40 158.40 L267.62 157.72 L267.85 157.14 L268.07 156.64 L268.30 156.23 L268.52 155.91 L268.75 155.68 L268.97 155.55 L269.20 155.50 L269.41 155.55 L269.62 155.68 L269.83 155.91 L270.03 156.23 L270.24 156.64 L270.45 157.14 L270.66 157.72 L270.87 158.40 L271.08 159.15 L271.28 159.99 L271.49 160.91 L271.70 161.90 L271.91 162.97 L272.12 164.11 L272.33 165.32 L272.54 166.60 L272.74 167.94 L272.95 169.34 L273.16 170.79 L273.37 172.30 L273.58 173.86 L273.79 175.46 L274.00 177.11 L274.20 178.79 L274.41 180.51 L274.62 182.25 L274.83 184.03 L275.04 185.82 L275.25 187.64 L275.45 189.47 L275.66 191.31 L275.87 193.16 L276.08 195.02 L276.29 196.87 L276.50 198.72 L276.71 200.57 L276.91 202.41 L277.12 204.24 L277.33 206.05 L277.54 207.85 L277.75 209.63 L277.96 211.38 L278.17 213.11 L278.37 214.82 L278.58 216.49 L278.79 218.14 L279.00 219.75 L279.22 221.33 L279.43 222.88 L279.65 224.39 L279.87 225.86 L280.08 227.29 L280.30 228.68 L280.52 230.04 L280.74 231.35 L280.96 232.63 L281.19 233.86 L281.41 235.05 L281.63 236.20 L281.85 237.31 L282.07 238.38 L282.29 239.41 L282.51 240.40 L282.73 241.35 L282.94 242.26 L283.16 243.14 L283.37 243.97 L283.59 244.77 L283.80 245.53 L284.03 246.25 L284.25 246.95 L284.48 247.60 L284.71 248.23 L284.95 248.82 L285.19 249.38 L285.43 249.92 L285.67 250.42 L285.92 250.90 L286.17 251.35 L286.42 251.77 L286.67 252.17 L286.92 252.55 L287.18 252.91 L287.43 253.24 L287.69 253.55 L287.95 253.84 L288.21 254.12 L288.46 254.37 L288.72 254.61 L288.98 254.84 L289.23 255.04 L289.48 255.24 L289.73 255.42 L289.98 255.59 L290.23 255.74 L290.47 255.89 L290.71 256.02 L290.95 256.15 L291.18 256.26 L291.40 256.37 L291.62 256.46 L291.84 256.56 L292.07 256.64 L292.29 256.72 L292.51 256.79 L292.73 256.85 L292.95 256.91 L293.18 256.96 L293.40 257.01 L293.62 257.06 L293.84 257.10 L294.06 257.14 L294.29 257.17 L294.51 257.21 L294.73 257.23 L294.95 257.26 L295.17 257.28 L295.40 257.31 L295.62 257.33 L295.84 257.34 L296.06 257.36 L296.28 257.37 L296.51 257.39 L296.73 257.40 L296.95 257.41 L297.00 257.41" stroke="#ff1a1a" stroke-dasharray="6 5.5"/>
<path d="M242.60 257.50 L244.56 257.48 L244.72 257.48 L244.87 257.48 L245.03 257.48 L245.18 257.48 L245.34 257.47 L245.50 257.47 L245.65 257.46 L245.81 257.46 L245.96 257.45 L246.12 257.45 L246.28 257.44 L246.43 257.44 L246.59 257.43 L246.74 257.42 L246.90 257.41 L247.06 257.40 L247.21 257.39 L247.37 257.37 L247.52 257.36 L247.68 257.34 L247.84 257.33 L247.99 257.31 L248.15 257.28 L248.30 257.26 L248.46 257.23 L248.62 257.21 L248.77 257.17 L248.93 257.14 L249.08 257.10 L249.24 257.06 L249.40 257.01 L249.55 256.96 L249.71 256.91 L249.86 256.85 L250.02 256.79 L250.18 256.72 L250.33 256.64 L250.49 256.56 L250.64 256.46 L250.80 256.37 L250.96 256.26 L251.11 256.15 L251.27 256.02 L251.42 255.89 L251.58 255.74 L251.74 255.59 L251.89 255.42 L252.05 255.24 L252.20 255.04 L252.36 254.84 L252.52 254.61 L252.67 254.37 L252.83 254.12 L252.98 253.84 L253.14 253.55 L253.30 253.24 L253.45 252.91 L253.61 252.55 L253.76 252.17 L253.92 251.77 L254.08 251.35 L254.23 250.90 L254.39 250.42 L254.54 249.92 L254.70 249.38 L254.86 248.82 L255.01 248.23 L255.17 247.60 L255.32 246.95 L255.48 246.25 L255.64 245.53 L255.79 244.77 L255.95 243.97 L256.10 243.14 L256.26 242.26 L256.42 241.35 L256.57 240.40 L256.73 239.41 L256.88 238.38 L257.04 237.31 L257.20 236.20 L257.35 235.05 L257.51 233.86 L257.66 232.63 L257.82 231.35 L257.98 230.04 L258.13 228.68 L258.29 227.29 L258.44 225.86 L258.60 224.39 L258.76 222.88 L258.91 221.33 L259.07 219.75 L259.22 218.14 L259.38 216.49 L259.54 214.82 L259.69 213.11 L259.85 211.38 L260.00 209.63 L260.16 207.85 L260.32 206.05 L260.47 204.24 L260.63 202.41 L260.78 200.57 L260.94 198.72 L261.10 196.87 L261.25 195.02 L261.41 193.16 L261.56 191.31 L261.72 189.47 L261.88 187.64 L262.03 185.82 L262.19 184.03 L262.34 182.25 L262.50 180.51 L262.66 178.79 L262.81 177.11 L262.97 175.46 L263.12 173.86 L263.28 172.30 L263.44 170.79 L263.59 169.34 L263.75 167.94 L263.90 166.60 L264.06 165.32 L264.22 164.11 L264.37 162.97 L264.53 161.90 L264.68 160.91 L264.84 159.99 L265.00 159.15 L265.15 158.40 L265.31 157.72 L265.46 157.14 L265.62 156.64 L265.78 156.23 L265.93 155.91 L266.09 155.68 L266.24 155.55 L266.40 155.50 L266.56 155.55 L266.72 155.68 L266.88 155.91 L267.04 156.23 L267.19 156.64 L267.35 157.14 L267.51 157.72 L267.67 158.40 L267.83 159.15 L267.99 159.99 L268.15 160.91 L268.31 161.90 L268.47 162.97 L268.63 164.11 L268.78 165.32 L268.94 166.60 L269.10 167.94 L269.26 169.34 L269.42 170.79 L269.58 172.30 L269.74 173.86 L269.90 175.46 L270.06 177.11 L270.22 178.79 L270.38 180.51 L270.53 182.25 L270.69 184.03 L270.85 185.82 L271.01 187.64 L271.17 189.47 L271.33 191.31 L271.49 193.16 L271.65 195.02 L271.81 196.87 L271.96 198.72 L272.12 200.57 L272.28 202.41 L272.44 204.24 L272.60 206.05 L272.76 207.85 L272.92 209.63 L273.08 211.38 L273.24 213.11 L273.40 214.82 L273.55 216.49 L273.71 218.14 L273.87 219.75 L274.03 221.33 L274.19 222.88 L274.35 224.39 L274.51 225.86 L274.67 227.29 L274.83 228.68 L274.99 230.04 L275.14 231.35 L275.30 232.63 L275.46 233.86 L275.62 235.05 L275.78 236.20 L275.94 237.31 L276.10 238.38 L276.26 239.41 L276.42 240.40 L276.58 241.35 L276.73 242.26 L276.89 243.14 L277.05 243.97 L277.21 244.77 L277.37 245.53 L277.53 246.25 L277.69 246.95 L277.85 247.60 L278.01 248.23 L278.17 248.82 L278.32 249.38 L278.48 249.92 L278.64 250.42 L278.80 250.90 L278.96 251.35 L279.12 251.77 L279.28 252.17 L279.44 252.55 L279.60 252.91 L279.76 253.24 L279.91 253.55 L280.07 253.84 L280.23 254.12 L280.39 254.37 L280.55 254.61 L280.71 254.84 L280.87 255.04 L281.03 255.24 L281.19 255.42 L281.35 255.59 L281.50 255.74 L281.66 255.89 L281.82 256.02 L281.98 256.15 L282.14 256.26 L282.30 256.37 L282.46 256.46 L282.62 256.56 L282.78 256.64 L282.94 256.72 L283.09 256.79 L283.25 256.85 L283.41 256.91 L283.57 256.96 L283.73 257.01 L283.89 257.06 L284.05 257.10 L284.21 257.14 L284.37 257.17 L284.53 257.21 L284.69 257.23 L284.84 257.26 L285.00 257.28 L285.16 257.31 L285.32 257.33 L285.48 257.34 L285.64 257.36 L285.80 257.37 L285.96 257.39 L286.12 257.40 L286.27 257.41 L286.43 257.42 L286.59 257.43 L286.75 257.44 L286.91 257.44 L287.07 257.45 L287.23 257.45 L287.39 257.46 L287.55 257.46 L287.71 257.47 L287.86 257.47 L288.02 257.48 L288.18 257.48 L288.34 257.48 L288.50 257.48 L288.66 257.48 L291.70 257.50" stroke="#000"/>
</g>
<g clip-path="url(#clip12)" fill="none" stroke-width="1.5" stroke-linejoin="round">
<path d="M318.50 257.38 L318.55 257.37 L319.05 257.36 L319.56 257.34 L320.07 257.33 L320.57 257.31 L321.08 257.28 L321.59 257.26 L322.09 257.23 L322.60 257.21 L323.11 257.17 L323.62 257.14 L324.12 257.10 L324.63 257.06 L325.14 257.01 L325.64 256.96 L326.15 256.91 L326.65 256.85 L327.09 256.79 L327.49 256.72 L327.86 256.64 L328.19 256.56 L328.51 256.46 L328.81 256.37 L329.10 256.26 L329.39 256.15 L329.69 256.02 L329.99 255.89 L330.31 255.74 L330.66 255.59 L331.03 255.42 L331.43 255.24 L331.87 255.04 L332.35 254.84 L332.87 254.61 L333.40 254.37 L333.93 254.12 L334.45 253.84 L334.96 253.55 L335.47 253.24 L335.98 252.91 L336.49 252.55 L337.00 252.17 L337.50 251.77 L338.01 251.35 L338.51 250.90 L339.02 250.42 L339.53 249.92 L340.04 249.38 L340.55 248.82 L341.06 248.23 L341.58 247.60 L342.10 246.95 L342.62 246.25 L343.15 245.53 L343.68 244.77 L344.22 243.97 L344.75 243.14 L345.26 242.26 L345.75 241.35 L346.23 240.40 L346.71 239.41 L347.20 238.38 L347.69 237.31 L348.20 236.20 L348.73 235.05 L349.27 233.86 L349.78 232.63 L350.29 231.35 L350.78 230.04 L351.26 228.68 L351.75 227.29 L352.23 225.86 L352.72 224.39 L353.21 222.88 L353.71 221.33 L354.22 219.75 L354.75 218.14 L355.29 216.49 L355.85 214.82 L356.40 213.11 L356.94 211.38 L357.47 209.63 L358.00 207.85 L358.53 206.05 L359.06 204.24 L359.58 202.41 L360.11 200.57 L360.64 198.72 L361.17 196.87 L361.70 195.02 L362.24 193.16 L362.79 191.31 L363.33 189.47 L363.89 187.64 L364.45 185.82 L365.01 184.03 L365.58 182.25 L366.15 180.51 L366.72 178.79 L367.29 177.11 L367.86 175.46 L368.43 173.86 L369.00 172.30 L369.57 170.79 L370.14 169.34 L370.71 167.94 L371.28 166.60 L371.85 165.32 L372.42 164.11 L372.99 162.97 L373.56 161.90 L374.13 160.91 L374.70 159.99 L375.27 159.15 L375.84 158.40 L376.41 157.72 L376.98 157.14 L377.55 156.64 L378.12 156.23 L378.69 155.91 L379.26 155.68 L379.83 155.55 L380.40 155.50 L380.86 155.55 L381.35 155.68 L381.86 155.91 L382.37 156.23 L382.90 156.64 L383.43 157.14 L383.96 157.72 L384.50 158.40 L385.04 159.15 L385.58 159.99 L386.13 160.91 L386.68 161.90 L387.23 162.97 L387.78 164.11 L388.34 165.32 L388.90 166.60 L389.46 167.94 L390.02 169.34 L390.58 170.79 L391.15 172.30 L391.71 173.86 L392.28 175.46 L392.85 177.11 L393.42 178.79 L393.99 180.51 L394.57 182.25 L395.14 184.03 L395.71 185.82 L396.29 187.64 L396.87 189.47 L397.45 191.31 L398.03 193.16 L398.61 195.02 L399.19 196.87 L399.77 198.72 L400.35 200.57 L400.94 202.41 L401.52 204.24 L402.11 206.05 L402.69 207.85 L403.28 209.63 L403.87 211.38 L404.46 213.11 L405.05 214.82 L405.64 216.49 L406.23 218.14 L406.82 219.75 L407.41 221.33 L408.00 222.88 L408.60 224.39 L409.19 225.86 L409.78 227.29 L410.38 228.68 L410.97 230.04 L411.57 231.35 L412.17 232.63 L412.77 233.86 L413.36 235.05 L413.96 236.20 L414.56 237.31 L415.16 238.38 L415.76 239.41 L416.36 240.40 L416.96 241.35 L417.56 242.26 L418.17 243.14 L418.77 243.97 L419.37 244.77 L419.97 245.53 L420.58 246.25 L421.18 246.95 L421.79 247.60 L422.39 248.23 L423.00 248.82 L423.61 249.38 L424.21 249.92 L424.82 250.42 L425.43 250.90 L426.03 251.35 L426.64 251.77 L427.25 252.17 L427.86 252.55 L428.47 252.91 L429.08 253.24 L429.69 253.55 L430.30 253.84 L430.91 254.12 L431.52 254.37 L432.13 254.61 L432.75 254.84 L433.36 255.04 L433.97 255.24 L434.58 255.42 L435.20 255.59 L435.81 255.74 L436.43 255.89 L437.04 256.02 L437.66 256.15 L438.27 256.26 L438.89 256.37 L439.50 256.46 L440.12 256.56 L440.73 256.64 L441.35 256.72 L441.97 256.79 L442.59 256.85 L443.20 256.91 L443.82 256.96 L444.44 257.01 L445.06 257.06 L445.68 257.10 L446.30 257.14 L446.92 257.17 L447.50 257.20" stroke="#1a1aff" stroke-dasharray="6 2.8 1.5 2.8"/>
<path d="M343.00 257.18 L343.13 257.17 L343.52 257.14 L343.91 257.10 L344.30 257.06 L344.69 257.01 L345.08 256.96 L345.47 256.91 L345.85 256.85 L346.19 256.79 L346.48 256.72 L346.75 256.64 L346.98 256.56 L347.20 256.46 L347.40 256.37 L347.59 256.26 L347.77 256.15 L347.95 256.02 L348.14 255.89 L348.33 255.74 L348.54 255.59 L348.76 255.42 L349.00 255.24 L349.27 255.04 L349.57 254.84 L349.90 254.61 L350.26 254.37 L350.66 254.12 L351.07 253.84 L351.46 253.55 L351.83 253.24 L352.20 252.91 L352.55 252.55 L352.90 252.17 L353.25 251.77 L353.60 251.35 L353.96 250.90 L354.32 250.42 L354.69 249.92 L355.07 249.38 L355.47 248.82 L355.88 248.23 L356.31 247.60 L356.70 246.95 L357.07 246.25 L357.43 245.53 L357.78 244.77 L358.12 243.97 L358.46 243.14 L358.80 242.26 L359.16 241.35 L359.52 240.40 L359.91 239.41 L360.31 238.38 L360.74 237.31 L361.16 236.20 L361.56 235.05 L361.93 233.86 L362.28 232.63 L362.62 231.35 L362.95 230.04 L363.28 228.68 L363.61 227.29 L363.95 225.86 L364.30 224.39 L364.65 222.88 L365.03 221.33 L365.42 219.75 L365.84 218.14 L366.28 216.49 L366.74 214.82 L367.20 213.11 L367.67 211.38 L368.13 209.63 L368.60 207.85 L369.06 206.05 L369.53 204.24 L370.00 202.41 L370.46 200.57 L370.93 198.72 L371.39 196.87 L371.85 195.02 L372.32 193.16 L372.78 191.31 L373.25 189.47 L373.71 187.64 L374.18 185.82 L374.64 184.03 L375.11 182.25 L375.57 180.51 L376.04 178.79 L376.50 177.11 L376.97 175.46 L377.44 173.86 L377.90 172.30 L378.37 170.79 L378.83 169.34 L379.30 167.94 L379.76 166.60 L380.22 165.32 L380.69 164.11 L381.15 162.97 L381.62 161.90 L382.08 160.91 L382.55 159.99 L383.01 159.15 L383.48 158.40 L383.94 157.72 L384.41 157.14 L384.88 156.64 L385.34 156.23 L385.81 155.91 L386.27 155.68 L386.74 155.55 L387.20 155.50 L387.57 155.55 L387.97 155.68 L388.37 155.91 L388.79 156.23 L389.21 156.64 L389.63 157.14 L390.06 157.72 L390.49 158.40 L390.93 159.15 L391.37 159.99 L391.81 160.91 L392.25 161.90 L392.69 162.97 L393.14 164.11 L393.59 165.32 L394.03 166.60 L394.49 167.94 L394.94 169.34 L395.39 170.79 L395.84 172.30 L396.30 173.86 L396.76 175.46 L397.21 177.11 L397.67 178.79 L398.13 180.51 L398.59 182.25 L399.06 184.03 L399.52 185.82 L399.98 187.64 L400.45 189.47 L400.91 191.31 L401.38 193.16 L401.84 195.02 L402.31 196.87 L402.78 198.72 L403.25 200.57 L403.72 202.41 L404.19 204.24 L404.66 206.05 L405.13 207.85 L405.60 209.63 L406.08 211.38 L406.55 213.11 L407.02 214.82 L407.50 216.49 L407.97 218.14 L408.45 219.75 L408.92 221.33 L409.40 222.88 L409.88 224.39 L410.36 225.86 L410.83 227.29 L411.31 228.68 L411.79 230.04 L412.27 231.35 L412.75 232.63 L413.23 233.86 L413.71 235.05 L414.20 236.20 L414.68 237.31 L415.16 238.38 L415.64 239.41 L416.13 240.40 L416.61 241.35 L417.09 242.26 L417.58 243.14 L418.06 243.97 L418.55 244.77 L419.03 245.53 L419.52 246.25 L420.00 246.95 L420.49 247.60 L420.98 248.23 L421.46 248.82 L421.95 249.38 L422.44 249.92 L422.93 250.42 L423.42 250.90 L423.91 251.35 L424.39 251.77 L424.88 252.17 L425.37 252.55 L425.86 252.91 L426.36 253.24 L426.85 253.55 L427.34 253.84 L427.83 254.12 L428.32 254.37 L428.81 254.61 L429.30 254.84 L429.80 255.04 L430.29 255.24 L430.78 255.42 L431.28 255.59 L431.77 255.74 L432.26 255.89 L432.76 256.02 L433.25 256.15 L433.75 256.26 L434.24 256.37 L434.74 256.46 L435.23 256.56 L435.73 256.64 L436.23 256.72 L436.72 256.79 L437.22 256.85 L437.72 256.91 L438.21 256.96 L438.71 257.01 L439.21 257.06 L439.71 257.10 L440.20 257.14 L440.70 257.17 L441.20 257.21 L441.70 257.23 L442.20 257.26 L442.70 257.28 L443.20 257.31 L443.70 257.33 L444.20 257.34 L444.70 257.36 L445.20 257.37 L445.70 257.39 L446.20 257.40 L446.70 257.41 L447.20 257.42 L447.50 257.42" stroke="#ff1a1a" stroke-dasharray="6 5.5"/>
<path d="M331.50 257.50 L332.22 257.48 L332.53 257.48 L332.84 257.48 L333.16 257.48 L333.47 257.48 L333.78 257.47 L334.09 257.47 L334.40 257.46 L334.72 257.46 L335.03 257.45 L335.34 257.45 L335.65 257.44 L335.96 257.44 L336.28 257.43 L336.59 257.42 L336.90 257.41 L337.21 257.40 L337.52 257.39 L337.84 257.37 L338.15 257.36 L338.46 257.34 L338.77 257.33 L339.08 257.31 L339.40 257.28 L339.71 257.26 L340.02 257.23 L340.33 257.21 L340.64 257.17 L340.96 257.14 L341.27 257.10 L341.58 257.06 L341.89 257.01 L342.20 256.96 L342.52 256.91 L342.82 256.85 L343.10 256.79 L343.36 256.72 L343.60 256.64 L343.82 256.56 L344.03 256.46 L344.23 256.37 L344.42 256.26 L344.60 256.15 L344.78 256.02 L344.96 255.89 L345.15 255.74 L345.34 255.59 L345.53 255.42 L345.74 255.24 L345.96 255.04 L346.19 254.84 L346.43 254.61 L346.69 254.37 L346.97 254.12 L347.27 253.84 L347.59 253.55 L347.93 253.24 L348.27 252.91 L348.62 252.55 L348.98 252.17 L349.33 251.77 L349.69 251.35 L350.04 250.90 L350.40 250.42 L350.75 249.92 L351.11 249.38 L351.45 248.82 L351.80 248.23 L352.14 247.60 L352.47 246.95 L352.80 246.25 L353.15 245.53 L353.49 244.77 L353.84 243.97 L354.19 243.14 L354.55 242.26 L354.90 241.35 L355.25 240.40 L355.60 239.41 L355.94 238.38 L356.28 237.31 L356.61 236.20 L356.92 235.05 L357.22 233.86 L357.50 232.63 L357.76 231.35 L358.02 230.04 L358.27 228.68 L358.53 227.29 L358.78 225.86 L359.04 224.39 L359.31 222.88 L359.59 221.33 L359.88 219.75 L360.19 218.14 L360.51 216.49 L360.85 214.82 L361.19 213.11 L361.53 211.38 L361.87 209.63 L362.20 207.85 L362.54 206.05 L362.87 204.24 L363.20 202.41 L363.54 200.57 L363.87 198.72 L364.21 196.87 L364.54 195.02 L364.88 193.16 L365.22 191.31 L365.56 189.47 L365.90 187.64 L366.24 185.82 L366.59 184.03 L366.93 182.25 L367.27 180.51 L367.62 178.79 L367.96 177.11 L368.31 175.46 L368.65 173.86 L369.00 172.30 L369.34 170.79 L369.69 169.34 L370.03 167.94 L370.38 166.60 L370.72 165.32 L371.07 164.11 L371.41 162.97 L371.76 161.90 L372.10 160.91 L372.45 159.99 L372.79 159.15 L373.14 158.40 L373.48 157.72 L373.83 157.14 L374.17 156.64 L374.52 156.23 L374.86 155.91 L375.21 155.68 L375.55 155.55 L375.90 155.50 L376.26 155.55 L376.61 155.68 L376.97 155.91 L377.33 156.23 L377.69 156.64 L378.04 157.14 L378.40 157.72 L378.76 158.40 L379.11 159.15 L379.47 159.99 L379.83 160.91 L380.18 161.90 L380.54 162.97 L380.90 164.11 L381.25 165.32 L381.61 166.60 L381.97 167.94 L382.33 169.34 L382.68 170.79 L383.04 172.30 L383.40 173.86 L383.75 175.46 L384.11 177.11 L384.47 178.79 L384.82 180.51 L385.18 182.25 L385.54 184.03 L385.90 185.82 L386.25 187.64 L386.61 189.47 L386.97 191.31 L387.32 193.16 L387.68 195.02 L388.04 196.87 L388.39 198.72 L388.75 200.57 L389.11 202.41 L389.47 204.24 L389.82 206.05 L390.18 207.85 L390.54 209.63 L390.89 211.38 L391.25 213.11 L391.61 214.82 L391.96 216.49 L392.32 218.14 L392.68 219.75 L393.04 221.33 L393.39 222.88 L393.75 224.39 L394.11 225.86 L394.46 227.29 L394.82 228.68 L395.18 230.04 L395.53 231.35 L395.89 232.63 L396.25 233.86 L396.61 235.05 L396.96 236.20 L397.32 237.31 L397.68 238.38 L398.03 239.41 L398.39 240.40 L398.75 241.35 L399.10 242.26 L399.46 243.14 L399.82 243.97 L400.18 244.77 L400.53 245.53 L400.89 246.25 L401.25 246.95 L401.60 247.60 L401.96 248.23 L402.32 248.82 L402.67 249.38 L403.03 249.92 L403.39 250.42 L403.75 250.90 L404.10 251.35 L404.46 251.77 L404.82 252.17 L405.17 252.55 L405.53 252.91 L405.89 253.24 L406.25 253.55 L406.60 253.84 L406.96 254.12 L407.32 254.37 L407.67 254.61 L408.03 254.84 L408.39 255.04 L408.74 255.24 L409.10 255.42 L409.46 255.59 L409.81 255.74 L410.17 255.89 L410.53 256.02 L410.89 256.15 L411.24 256.26 L411.60 256.37 L411.96 256.46 L412.31 256.56 L412.67 256.64 L413.03 256.72 L413.38 256.79 L413.74 256.85 L414.10 256.91 L414.46 256.96 L414.81 257.01 L415.17 257.06 L415.53 257.10 L415.88 257.14 L416.24 257.17 L416.60 257.21 L416.95 257.23 L417.31 257.26 L417.67 257.28 L418.03 257.31 L418.38 257.33 L418.74 257.34 L419.10 257.36 L419.45 257.37 L419.81 257.39 L420.17 257.40 L420.52 257.41 L420.88 257.42 L421.24 257.43 L421.60 257.44 L421.95 257.44 L422.31 257.45 L422.67 257.45 L423.02 257.46 L423.38 257.46 L423.74 257.47 L423.80 257.47" stroke="#000"/>
</g>
<g clip-path="url(#clip13)" fill="none" stroke-width="1.5" stroke-linejoin="round">
<path d="M453.90 256.98 L454.03 256.96 L454.50 256.91 L454.97 256.85 L455.44 256.79 L455.92 256.72 L456.39 256.64 L456.86 256.56 L457.33 256.46 L457.80 256.37 L458.27 256.26 L458.74 256.15 L459.21 256.02 L459.68 255.89 L460.16 255.74 L460.63 255.59 L461.10 255.42 L461.58 255.24 L462.05 255.04 L462.53 254.84 L463.01 254.61 L463.49 254.37 L463.97 254.12 L464.45 253.84 L464.92 253.55 L465.40 253.24 L465.88 252.91 L466.36 252.55 L466.84 252.17 L467.32 251.77 L467.80 251.35 L468.28 250.90 L468.76 250.42 L469.24 249.92 L469.72 249.38 L470.20 248.82 L470.68 248.23 L471.15 247.60 L471.63 246.95 L472.11 246.25 L472.58 245.53 L473.05 244.77 L473.53 243.97 L474.00 243.14 L474.47 242.26 L474.94 241.35 L475.41 240.40 L475.88 239.41 L476.35 238.38 L476.83 237.31 L477.32 236.20 L477.82 235.05 L478.33 233.86 L478.84 232.63 L479.36 231.35 L479.88 230.04 L480.40 228.68 L480.92 227.29 L481.43 225.86 L481.94 224.39 L482.45 222.88 L482.95 221.33 L483.43 219.75 L483.91 218.14 L484.38 216.49 L484.84 214.82 L485.29 213.11 L485.75 211.38 L486.22 209.63 L486.68 207.85 L487.14 206.05 L487.61 204.24 L488.07 202.41 L488.53 200.57 L489.00 198.72 L489.46 196.87 L489.92 195.02 L490.38 193.16 L490.84 191.31 L491.30 189.47 L491.76 187.64 L492.21 185.82 L492.67 184.03 L493.12 182.25 L493.57 180.51 L494.03 178.79 L494.48 177.11 L494.93 175.46 L495.39 173.86 L495.84 172.30 L496.29 170.79 L496.75 169.34 L497.20 167.94 L497.65 166.60 L498.10 165.32 L498.56 164.11 L499.01 162.97 L499.46 161.90 L499.92 160.91 L500.37 159.99 L500.82 159.15 L501.28 158.40 L501.73 157.72 L502.18 157.14 L502.63 156.64 L503.09 156.23 L503.54 155.91 L503.99 155.68 L504.45 155.55 L504.90 155.50 L505.36 155.55 L505.82 155.68 L506.28 155.91 L506.74 156.23 L507.19 156.64 L507.65 157.14 L508.11 157.72 L508.57 158.40 L509.03 159.15 L509.49 159.99 L509.95 160.91 L510.41 161.90 L510.87 162.97 L511.33 164.11 L511.78 165.32 L512.24 166.60 L512.70 167.94 L513.16 169.34 L513.62 170.79 L514.08 172.30 L514.54 173.86 L515.00 175.46 L515.46 177.11 L515.92 178.79 L516.38 180.51 L516.83 182.25 L517.29 184.03 L517.75 185.82 L518.22 187.64 L518.68 189.47 L519.14 191.31 L519.61 193.16 L520.08 195.02 L520.54 196.87 L521.01 198.72 L521.48 200.57 L521.95 202.41 L522.42 204.24 L522.89 206.05 L523.36 207.85 L523.83 209.63 L524.30 211.38 L524.76 213.11 L525.23 214.82 L525.71 216.49 L526.28 218.14 L526.92 219.75 L527.60 221.33 L528.26 222.88 L528.87 224.39 L529.38 225.86 L529.86 227.29 L530.34 228.68 L530.82 230.04 L531.30 231.35 L531.78 232.63 L532.26 233.86 L532.75 235.05 L533.23 236.20 L533.71 237.31 L534.19 238.38 L534.68 239.41 L535.16 240.40 L535.64 241.35 L536.13 242.26 L536.61 243.14 L537.09 243.97 L537.58 244.77 L538.06 245.53 L538.55 246.25 L539.03 246.95 L539.52 247.60 L540.00 248.23 L540.49 248.82 L540.98 249.38 L541.46 249.92 L541.95 250.42 L542.43 250.90 L542.92 251.35 L543.41 251.77 L543.90 252.17 L544.38 252.55 L544.87 252.91 L545.36 253.24 L545.85 253.55 L546.33 253.84 L546.82 254.12 L547.31 254.37 L547.80 254.61 L548.29 254.84 L548.77 255.04 L549.26 255.24 L549.75 255.42 L550.24 255.59 L550.73 255.74 L551.21 255.89 L551.70 256.02 L552.19 256.15 L552.68 256.26 L553.17 256.37 L553.65 256.46 L554.14 256.56 L554.63 256.64 L555.11 256.72 L555.60 256.79 L556.09 256.85 L556.57 256.91 L557.06 256.96 L557.54 257.01 L558.03 257.06 L558.51 257.10 L559.00 257.14 L559.48 257.17 L559.96 257.21 L560.44 257.23 L560.93 257.26 L561.41 257.28 L561.89 257.31 L562.38 257.33 L562.86 257.34 L563.34 257.36 L563.83 257.37 L564.31 257.39 L564.79 257.40 L565.27 257.41 L565.76 257.42 L566.00 257.42" stroke="#1a1aff" stroke-dasharray="6 2.8 1.5 2.8"/>
<path d="M446.00 256.98 L446.11 256.96 L446.45 256.91 L446.78 256.85 L447.12 256.79 L447.46 256.72 L447.79 256.64 L448.13 256.56 L448.46 256.46 L448.80 256.37 L449.14 256.26 L449.47 256.15 L449.81 256.02 L450.14 255.89 L450.48 255.74 L450.82 255.59 L451.15 255.42 L451.49 255.24 L451.82 255.04 L452.16 254.84 L452.50 254.61 L452.83 254.37 L453.17 254.12 L453.50 253.84 L453.84 253.55 L454.18 253.24 L454.51 252.91 L454.85 252.55 L455.18 252.17 L455.52 251.77 L455.86 251.35 L456.19 250.90 L456.53 250.42 L456.86 249.92 L457.20 249.38 L457.54 248.82 L457.87 248.23 L458.21 247.60 L458.54 246.95 L458.88 246.25 L459.22 245.53 L459.55 244.77 L459.89 243.97 L460.22 243.14 L460.56 242.26 L460.90 241.35 L461.23 240.40 L461.57 239.41 L461.90 238.38 L462.24 237.31 L462.58 236.20 L462.91 235.05 L463.25 233.86 L463.58 232.63 L463.92 231.35 L464.26 230.04 L464.59 228.68 L464.93 227.29 L465.26 225.86 L465.60 224.39 L465.94 222.88 L466.27 221.33 L466.61 219.75 L466.94 218.14 L467.28 216.49 L467.62 214.82 L467.95 213.11 L468.29 211.38 L468.62 209.63 L468.96 207.85 L469.30 206.05 L469.63 204.24 L469.97 202.41 L470.30 200.57 L470.64 198.72 L470.98 196.87 L471.31 195.02 L471.65 193.16 L471.98 191.31 L472.32 189.47 L472.66 187.64 L472.99 185.82 L473.33 184.03 L473.66 182.25 L474.00 180.51 L474.34 178.79 L474.67 177.11 L475.01 175.46 L475.34 173.86 L475.68 172.30 L476.02 170.79 L476.35 169.34 L476.69 167.94 L477.02 166.60 L477.36 165.32 L477.70 164.11 L478.03 162.97 L478.37 161.90 L478.70 160.91 L479.04 159.99 L479.38 159.15 L479.71 158.40 L480.05 157.72 L480.38 157.14 L480.72 156.64 L481.06 156.23 L481.39 155.91 L481.73 155.68 L482.06 155.55 L482.40 155.50 L482.75 155.55 L483.09 155.68 L483.44 155.91 L483.78 156.23 L484.12 156.64 L484.47 157.14 L484.81 157.72 L485.16 158.40 L485.50 159.15 L485.85 159.99 L486.19 160.91 L486.54 161.90 L486.88 162.97 L487.23 164.11 L487.57 165.32 L487.92 166.60 L488.26 167.94 L488.61 169.34 L488.95 170.79 L489.30 172.30 L489.64 173.86 L489.99 175.46 L490.33 177.11 L490.68 178.79 L491.02 180.51 L491.37 182.25 L491.71 184.03 L492.06 185.82 L492.40 187.64 L492.75 189.47 L493.09 191.31 L493.44 193.16 L493.78 195.02 L494.13 196.87 L494.47 198.72 L494.82 200.57 L495.16 202.41 L495.51 204.24 L495.85 206.05 L496.20 207.85 L496.54 209.63 L496.89 211.38 L497.23 213.11 L497.58 214.82 L497.92 216.49 L498.27 218.14 L498.62 219.75 L498.96 221.33 L499.30 222.88 L499.65 224.39 L500.00 225.86 L500.34 227.29 L500.69 228.68 L501.03 230.04 L501.38 231.35 L501.72 232.63 L502.06 233.86 L502.41 235.05 L502.75 236.20 L503.10 237.31 L503.44 238.38 L503.79 239.41 L504.13 240.40 L504.48 241.35 L504.82 242.26 L505.17 243.14 L505.51 243.97 L505.86 244.77 L506.20 245.53 L506.55 246.25 L506.89 246.95 L507.24 247.60 L507.58 248.23 L507.93 248.82 L508.27 249.38 L508.62 249.92 L508.96 250.42 L509.31 250.90 L509.65 251.35 L510.00 251.77 L510.34 252.17 L510.69 252.55 L511.03 252.91 L511.38 253.24 L511.72 253.55 L512.07 253.84 L512.41 254.12 L512.76 254.37 L513.11 254.61 L513.45 254.84 L513.79 255.04 L514.14 255.24 L514.49 255.42 L514.83 255.59 L515.17 255.74 L515.52 255.89 L515.87 256.02 L516.21 256.15 L516.55 256.26 L516.90 256.37 L517.25 256.46 L517.59 256.56 L517.93 256.64 L518.28 256.72 L518.62 256.79 L518.97 256.85 L519.31 256.91 L519.66 256.96 L520.00 257.01 L520.35 257.06 L520.69 257.10 L521.04 257.14 L521.38 257.17 L521.73 257.21 L522.07 257.23 L522.42 257.26 L522.76 257.28 L523.11 257.31 L523.45 257.33 L523.80 257.34 L524.14 257.36 L524.49 257.37 L524.84 257.39 L525.18 257.40 L525.52 257.41 L525.87 257.42 L526.21 257.43 L526.56 257.44 L526.90 257.44 L527.25 257.45 L527.60 257.45 L527.94 257.46 L528.28 257.46 L528.63 257.47 L528.98 257.47 L529.32 257.48 L529.66 257.48 L530.01 257.48 L530.36 257.48 L530.70 257.48 L536.00 257.50" stroke="#ff1a1a" stroke-dasharray="6 5.5"/>
<path d="M459.50 257.47 L459.69 257.47 L459.93 257.47 L460.18 257.46 L460.43 257.46 L460.68 257.45 L460.93 257.45 L461.18 257.44 L461.43 257.44 L461.68 257.43 L461.93 257.42 L462.18 257.41 L462.42 257.40 L462.67 257.39 L462.92 257.37 L463.17 257.36 L463.42 257.34 L463.67 257.33 L463.92 257.31 L464.17 257.28 L464.42 257.26 L464.67 257.23 L464.91 257.21 L465.16 257.17 L465.41 257.14 L465.66 257.10 L465.91 257.06 L466.16 257.01 L466.41 256.96 L466.66 256.91 L466.91 256.85 L467.16 256.79 L467.40 256.72 L467.65 256.64 L467.90 256.56 L468.15 256.46 L468.40 256.37 L468.65 256.26 L468.90 256.15 L469.15 256.02 L469.40 255.89 L469.64 255.74 L469.89 255.59 L470.14 255.42 L470.39 255.24 L470.64 255.04 L470.89 254.84 L471.14 254.61 L471.39 254.37 L471.64 254.12 L471.89 253.84 L472.13 253.55 L472.38 253.24 L472.63 252.91 L472.88 252.55 L473.13 252.17 L473.38 251.77 L473.63 251.35 L473.88 250.90 L474.13 250.42 L474.38 249.92 L474.62 249.38 L474.87 248.82 L475.12 248.23 L475.37 247.60 L475.62 246.95 L475.87 246.25 L476.12 245.53 L476.37 244.77 L476.62 243.97 L476.87 243.14 L477.12 242.26 L477.36 241.35 L477.61 240.40 L477.86 239.41 L478.11 238.38 L478.36 237.31 L478.61 236.20 L478.86 235.05 L479.11 233.86 L479.36 232.63 L479.61 231.35 L479.85 230.04 L480.10 228.68 L480.35 227.29 L480.60 225.86 L480.85 224.39 L481.10 222.88 L481.35 221.33 L481.60 219.75 L481.85 218.14 L482.10 216.49 L482.34 214.82 L482.59 213.11 L482.84 211.38 L483.09 209.63 L483.34 207.85 L483.59 206.05 L483.84 204.24 L484.09 202.41 L484.34 200.57 L484.59 198.72 L484.83 196.87 L485.08 195.02 L485.33 193.16 L485.58 191.31 L485.83 189.47 L486.08 187.64 L486.33 185.82 L486.58 184.03 L486.83 182.25 L487.07 180.51 L487.32 178.79 L487.57 177.11 L487.82 175.46 L488.07 173.86 L488.32 172.30 L488.57 170.79 L488.82 169.34 L489.07 167.94 L489.32 166.60 L489.56 165.32 L489.81 164.11 L490.06 162.97 L490.31 161.90 L490.56 160.91 L490.81 159.99 L491.06 159.15 L491.31 158.40 L491.56 157.72 L491.81 157.14 L492.06 156.64 L492.30 156.23 L492.55 155.91 L492.80 155.68 L493.05 155.55 L493.30 155.50 L493.56 155.55 L493.82 155.68 L494.08 155.91 L494.34 156.23 L494.61 156.64 L494.87 157.14 L495.13 157.72 L495.39 158.40 L495.65 159.15 L495.91 159.99 L496.17 160.91 L496.43 161.90 L496.69 162.97 L496.95 164.11 L497.22 165.32 L497.48 166.60 L497.74 167.94 L498.00 169.34 L498.26 170.79 L498.52 172.30 L498.78 173.86 L499.04 175.46 L499.30 177.11 L499.56 178.79 L499.82 180.51 L500.09 182.25 L500.35 184.03 L500.61 185.82 L500.87 187.64 L501.13 189.47 L501.39 191.31 L501.65 193.16 L501.91 195.02 L502.17 196.87 L502.44 198.72 L502.70 200.57 L502.96 202.41 L503.22 204.24 L503.48 206.05 L503.74 207.85 L504.00 209.63 L504.26 211.38 L504.52 213.11 L504.78 214.82 L505.05 216.49 L505.31 218.14 L505.57 219.75 L505.83 221.33 L506.09 222.88 L506.35 224.39 L506.61 225.86 L506.87 227.29 L507.13 228.68 L507.39 230.04 L507.66 231.35 L507.92 232.63 L508.18 233.86 L508.44 235.05 L508.70 236.20 L508.96 237.31 L509.22 238.38 L509.48 239.41 L509.74 240.40 L510.00 241.35 L510.26 242.26 L510.53 243.14 L510.79 243.97 L511.05 244.77 L511.31 245.53 L511.57 246.25 L511.83 246.95 L512.09 247.60 L512.35 248.23 L512.61 248.82 L512.88 249.38 L513.14 249.92 L513.40 250.42 L513.66 250.90 L513.92 251.35 L514.18 251.77 L514.44 252.17 L514.70 252.55 L514.96 252.91 L515.22 253.24 L515.49 253.55 L515.75 253.84 L516.01 254.12 L516.27 254.37 L516.53 254.61 L516.79 254.84 L517.05 255.04 L517.31 255.24 L517.57 255.42 L517.83 255.59 L518.10 255.74 L518.36 255.89 L518.62 256.02 L518.88 256.15 L519.14 256.26 L519.40 256.37 L519.66 256.46 L519.92 256.56 L520.18 256.64 L520.44 256.72 L520.71 256.79 L520.97 256.85 L521.23 256.91 L521.49 256.96 L521.75 257.01 L522.01 257.06 L522.27 257.10 L522.53 257.14 L522.79 257.17 L523.05 257.21 L523.32 257.23 L523.58 257.26 L523.84 257.28 L524.10 257.31 L524.36 257.33 L524.62 257.34 L524.88 257.36 L525.14 257.37 L525.40 257.39 L525.66 257.40 L525.92 257.41 L526.19 257.42 L526.45 257.43 L526.71 257.44 L526.97 257.44 L527.23 257.45 L527.49 257.45 L527.50 257.46" stroke="#000"/>
</g>
<path d="M147.6 25.4 H181.8" stroke="#000" stroke-width="1.5" fill="none"/>
<path d="M147.6 35.9 H181.8" stroke="#ff1a1a" stroke-width="1.5" fill="none" stroke-dasharray="6 5.5"/>
<path d="M147.6 46.1 H181.8" stroke="#1a1aff" stroke-width="1.5" fill="none" stroke-dasharray="6 2.8 1.5 2.8"/>
<text transform="translate(186.60 27.50) scale(1.030 1)" font-size="8.30" text-anchor="start" font-family="Liberation Sans, sans-serif" text-rendering="geometricPrecision" fill="#000" stroke="#000" stroke-width="0.14">SPT+WMAP7</text>
<text transform="translate(186.60 37.60) scale(1.030 1)" font-size="8.30" text-anchor="start" font-family="Liberation Sans, sans-serif" text-rendering="geometricPrecision" fill="#ff1a1a" stroke="#ff1a1a" stroke-width="0.14">WMAP</text>
<text transform="translate(186.60 47.80) scale(1.030 1)" font-size="8.30" text-anchor="start" font-family="Liberation Sans, sans-serif" text-rendering="geometricPrecision" fill="#1a1aff" stroke="#1a1aff" stroke-width="0.14">SPT</text>
<text transform="translate(103.28 143.90) scale(1.195 1)" font-size="9.20" font-family="Liberation Sans, sans-serif" text-rendering="geometricPrecision" fill="#000" stroke="#000" stroke-width="0.16">100</text>
<text transform="translate(121.43 143.90) scale(1.013 1)" font-size="9.20" font-family="Liberation Sans, sans-serif" text-rendering="geometricPrecision" fill="#000" stroke="#000" stroke-width="0.16">Ω</text>
<text transform="translate(128.18 147.30) scale(0.824 1)" font-size="6.40" font-family="Liberation Sans, sans-serif" text-rendering="geometricPrecision" fill="#000" stroke="#000" stroke-width="0.30">b</text>
<text transform="translate(130.72 143.90) scale(1.138 1)" font-size="9.20" font-family="Liberation Sans, sans-serif" text-rendering="geometricPrecision" fill="#000" stroke="#000" stroke-width="0.16">h</text>
<text transform="translate(136.42 140.00) scale(0.883 1)" font-size="6.40" font-family="Liberation Sans, sans-serif" text-rendering="geometricPrecision" fill="#000" stroke="#000" stroke-width="0.30">2</text>
<text transform="translate(244.55 143.90) scale(0.964 1)" font-size="9.20" font-family="Liberation Sans, sans-serif" text-rendering="geometricPrecision" fill="#000" stroke="#000" stroke-width="0.16">Ω</text>
<text transform="translate(251.07 147.30) scale(0.898 1)" font-size="6.40" font-family="Liberation Sans, sans-serif" text-rendering="geometricPrecision" fill="#000" stroke="#000" stroke-width="0.30">c</text>
<text transform="translate(254.43 143.90) scale(1.112 1)" font-size="9.20" font-family="Liberation Sans, sans-serif" text-rendering="geometricPrecision" fill="#000" stroke="#000" stroke-width="0.16">h</text>
<text transform="translate(260.11 140.00) scale(0.917 1)" font-size="6.40" font-family="Liberation Sans, sans-serif" text-rendering="geometricPrecision" fill="#000" stroke="#000" stroke-width="0.30">2</text>
<text transform="translate(375.12 143.90) scale(1.125 1)" font-size="9.20" font-family="Liberation Sans, sans-serif" text-rendering="geometricPrecision" fill="#000" stroke="#000" stroke-width="0.16">100</text>
<text transform="translate(397.34 143.90) scale(1.109 1)" font-size="9.20" font-family="Liberation Sans, sans-serif" text-rendering="geometricPrecision" font-style="italic" fill="#000" stroke="#000" stroke-width="0.16">θ</text>
<text transform="translate(403.35 147.30) scale(0.923 1)" font-size="6.40" font-family="Liberation Sans, sans-serif" text-rendering="geometricPrecision" fill="#000" stroke="#000" stroke-width="0.30">s</text>
<text transform="translate(508.65 143.90) scale(0.964 1)" font-size="9.20" font-family="Liberation Sans, sans-serif" text-rendering="geometricPrecision" fill="#000" stroke="#000" stroke-width="0.16">Ω</text>
<text transform="translate(514.97 146.80) scale(0.852 1)" font-size="6.40" font-family="Liberation Sans, sans-serif" text-rendering="geometricPrecision" fill="#000" stroke="#000" stroke-width="0.30">Λ</text>
<text transform="translate(119.83 281.10) scale(1.677 1)" font-size="8.00" font-family="Liberation Sans, sans-serif" text-rendering="geometricPrecision" font-style="italic" fill="#000" stroke="#000" stroke-width="0.30">τ</text>
<text transform="translate(248.80 281.10) scale(1.216 1)" font-size="8.80" font-family="Liberation Sans, sans-serif" text-rendering="geometricPrecision" fill="#000" stroke="#000" stroke-width="0.20">n</text>
<text transform="translate(254.65 284.50) scale(0.959 1)" font-size="6.40" font-family="Liberation Sans, sans-serif" text-rendering="geometricPrecision" fill="#000" stroke="#000" stroke-width="0.30">s</text>
<text transform="translate(369.20 281.10) scale(1.011 1)" font-size="9.20" font-family="Liberation Sans, sans-serif" text-rendering="geometricPrecision" fill="#000" stroke="#000" stroke-width="0.16">10</text>
<text transform="translate(379.51 277.20) scale(1.008 1)" font-size="6.40" font-family="Liberation Sans, sans-serif" text-rendering="geometricPrecision" fill="#000" stroke="#000" stroke-width="0.30">9</text>
<text transform="translate(383.24 281.10) scale(1.149 1)" font-size="9.20" font-family="Liberation Sans, sans-serif" text-rendering="geometricPrecision" fill="#000" stroke="#000" stroke-width="0.16">Δ</text>
<text transform="translate(390.01 277.20) scale(0.917 1)" font-size="6.40" font-family="Liberation Sans, sans-serif" text-rendering="geometricPrecision" fill="#000" stroke="#000" stroke-width="0.30">2</text>
<text transform="translate(393.28 284.50) scale(1.016 1)" font-size="6.40" font-family="Liberation Sans, sans-serif" text-rendering="geometricPrecision" fill="#000" stroke="#000" stroke-width="0.30">R</text>
<text transform="translate(504.19 281.10) scale(1.097 1)" font-size="9.20" font-family="Liberation Sans, sans-serif" text-rendering="geometricPrecision" fill="#000" stroke="#000" stroke-width="0.16">H</text>
<text transform="translate(511.37 284.50) scale(1.031 1)" font-size="6.40" font-family="Liberation Sans, sans-serif" text-rendering="geometricPrecision" fill="#000" stroke="#000" stroke-width="0.30">0</text>
<rect x="5.8" y="257.2" width="1.1" height="1.3" fill="#9a9a9a"/>
<rect x="32.6" y="119.4" width="1.0" height="1.0" fill="#aaa"/>
</svg>
</body></html>
